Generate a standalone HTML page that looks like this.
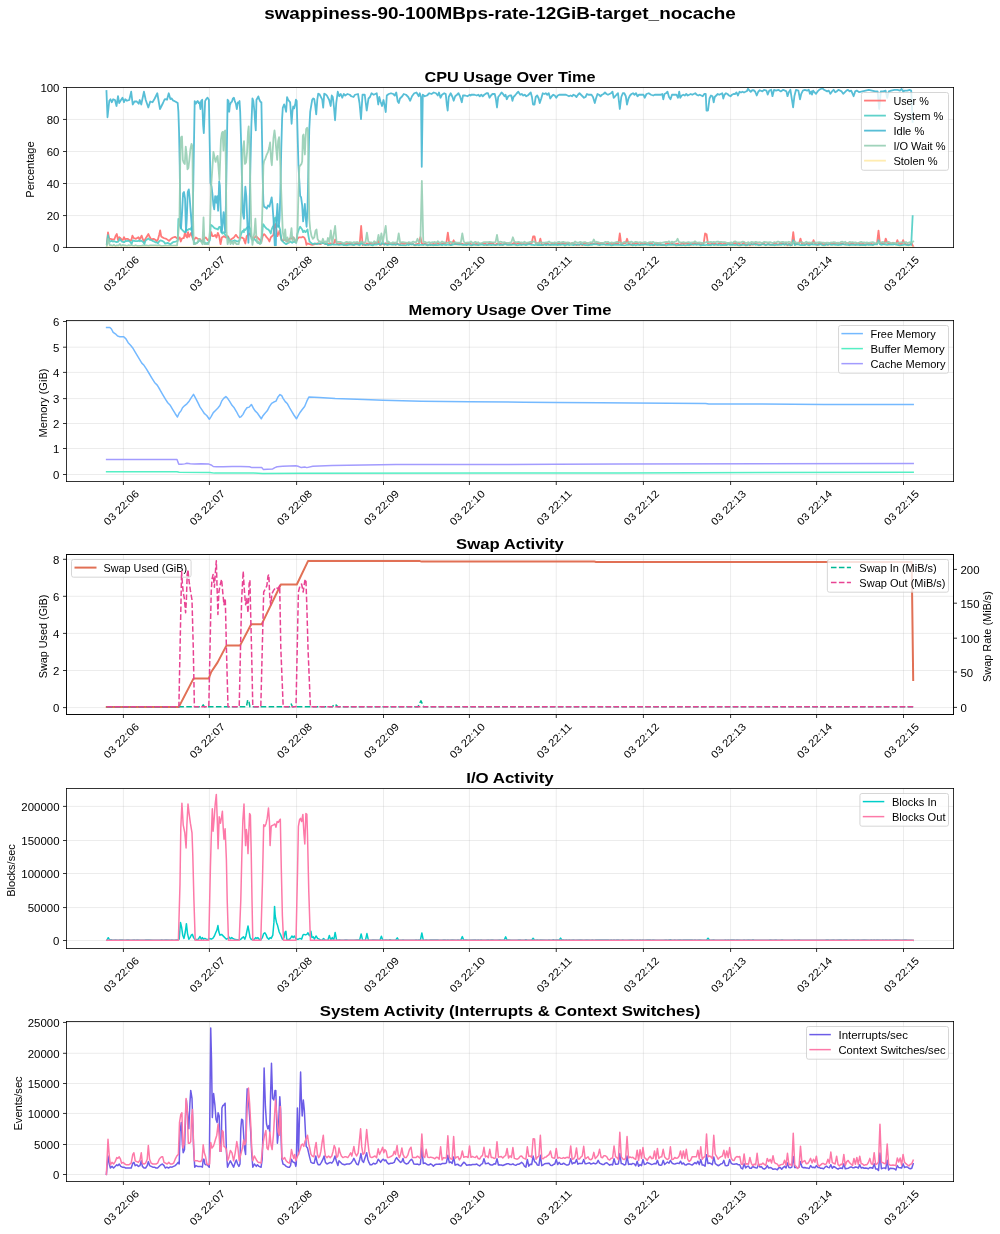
<!DOCTYPE html>
<html><head><meta charset="utf-8"><style>html,body{margin:0;padding:0;background:#fff}svg{display:block;will-change:transform}</style></head><body>
<svg width="1000" height="1234" viewBox="0 0 1000 1234" version="1.1">
  <defs>
  <style type="text/css">*{stroke-linejoin: round; stroke-linecap: butt}</style>
 </defs>
 <g id="figure_1">
  <g id="patch_1">
   <path d="M 0 1234 L 1000 1234 L 1000 0 L 0 0 z
" style="fill: #ffffff"/>
  </g>
  <g id="axes_1">
   <g id="patch_2">
    <path d="M 66.5 247.5 L 953.5 247.5 L 953.5 87.5 L 66.5 87.5 z
" style="fill: #ffffff"/>
   </g>
   <g id="matplotlib.axis_1">
    <g id="xtick_1">
     <g id="line2d_1">
      <path d="M 123.4 247.5 L 123.4 87.5 " clip-path="url(#pa664b8d14c)" style="fill: none; stroke: #b0b0b0; stroke-opacity: 0.3; stroke-width: 0.8; stroke-linecap: square"/>
     </g>
     <g id="line2d_2">
      <defs>
       <path id="m70ed4f7c57" d="M 0 0 L 0 3.5 " style="stroke: #000000; stroke-width: 0.8"/>
      </defs>
      <g>
       <use href="#m70ed4f7c57" x="123.4" y="247.5" style="stroke: #000000; stroke-width: 0.8"/>
      </g>
     </g>
     <g id="text_1">
      <text style="font-size: 10.50px; font-family: 'Liberation Sans'" transform="translate(108.040 291.996) rotate(-45)" textLength="44.72" lengthAdjust="spacingAndGlyphs">03 22:06</text>
     </g>
    </g>
    <g id="xtick_2">
     <g id="line2d_3">
      <path d="M 209.4 247.5 L 209.4 87.5 " clip-path="url(#pa664b8d14c)" style="fill: none; stroke: #b0b0b0; stroke-opacity: 0.3; stroke-width: 0.8; stroke-linecap: square"/>
     </g>
     <g id="line2d_4">
      <g>
       <use href="#m70ed4f7c57" x="209.4" y="247.5" style="stroke: #000000; stroke-width: 0.8"/>
      </g>
     </g>
     <g id="text_2">
      <text style="font-size: 10.50px; font-family: 'Liberation Sans'" transform="translate(194.040 291.996) rotate(-45)" textLength="44.72" lengthAdjust="spacingAndGlyphs">03 22:07</text>
     </g>
    </g>
    <g id="xtick_3">
     <g id="line2d_5">
      <path d="M 296.6 247.5 L 296.6 87.5 " clip-path="url(#pa664b8d14c)" style="fill: none; stroke: #b0b0b0; stroke-opacity: 0.3; stroke-width: 0.8; stroke-linecap: square"/>
     </g>
     <g id="line2d_6">
      <g>
       <use href="#m70ed4f7c57" x="296.6" y="247.5" style="stroke: #000000; stroke-width: 0.8"/>
      </g>
     </g>
     <g id="text_3">
      <text style="font-size: 10.50px; font-family: 'Liberation Sans'" transform="translate(281.240 291.996) rotate(-45)" textLength="44.72" lengthAdjust="spacingAndGlyphs">03 22:08</text>
     </g>
    </g>
    <g id="xtick_4">
     <g id="line2d_7">
      <path d="M 383.5 247.5 L 383.5 87.5 " clip-path="url(#pa664b8d14c)" style="fill: none; stroke: #b0b0b0; stroke-opacity: 0.3; stroke-width: 0.8; stroke-linecap: square"/>
     </g>
     <g id="line2d_8">
      <g>
       <use href="#m70ed4f7c57" x="383.5" y="247.5" style="stroke: #000000; stroke-width: 0.8"/>
      </g>
     </g>
     <g id="text_4">
      <text style="font-size: 10.50px; font-family: 'Liberation Sans'" transform="translate(368.140 291.996) rotate(-45)" textLength="44.72" lengthAdjust="spacingAndGlyphs">03 22:09</text>
     </g>
    </g>
    <g id="xtick_5">
     <g id="line2d_9">
      <path d="M 469.4 247.5 L 469.4 87.5 " clip-path="url(#pa664b8d14c)" style="fill: none; stroke: #b0b0b0; stroke-opacity: 0.3; stroke-width: 0.8; stroke-linecap: square"/>
     </g>
     <g id="line2d_10">
      <g>
       <use href="#m70ed4f7c57" x="469.4" y="247.5" style="stroke: #000000; stroke-width: 0.8"/>
      </g>
     </g>
     <g id="text_5">
      <text style="font-size: 10.50px; font-family: 'Liberation Sans'" transform="translate(454.040 291.996) rotate(-45)" textLength="44.72" lengthAdjust="spacingAndGlyphs">03 22:10</text>
     </g>
    </g>
    <g id="xtick_6">
     <g id="line2d_11">
      <path d="M 556.25 247.5 L 556.25 87.5 " clip-path="url(#pa664b8d14c)" style="fill: none; stroke: #b0b0b0; stroke-opacity: 0.3; stroke-width: 0.8; stroke-linecap: square"/>
     </g>
     <g id="line2d_12">
      <g>
       <use href="#m70ed4f7c57" x="556.25" y="247.5" style="stroke: #000000; stroke-width: 0.8"/>
      </g>
     </g>
     <g id="text_6">
      <text style="font-size: 10.50px; font-family: 'Liberation Sans'" transform="translate(540.890 291.996) rotate(-45)" textLength="44.72" lengthAdjust="spacingAndGlyphs">03 22:11</text>
     </g>
    </g>
    <g id="xtick_7">
     <g id="line2d_13">
      <path d="M 643.4 247.5 L 643.4 87.5 " clip-path="url(#pa664b8d14c)" style="fill: none; stroke: #b0b0b0; stroke-opacity: 0.3; stroke-width: 0.8; stroke-linecap: square"/>
     </g>
     <g id="line2d_14">
      <g>
       <use href="#m70ed4f7c57" x="643.4" y="247.5" style="stroke: #000000; stroke-width: 0.8"/>
      </g>
     </g>
     <g id="text_7">
      <text style="font-size: 10.50px; font-family: 'Liberation Sans'" transform="translate(628.040 291.996) rotate(-45)" textLength="44.72" lengthAdjust="spacingAndGlyphs">03 22:12</text>
     </g>
    </g>
    <g id="xtick_8">
     <g id="line2d_15">
      <path d="M 730.6 247.5 L 730.6 87.5 " clip-path="url(#pa664b8d14c)" style="fill: none; stroke: #b0b0b0; stroke-opacity: 0.3; stroke-width: 0.8; stroke-linecap: square"/>
     </g>
     <g id="line2d_16">
      <g>
       <use href="#m70ed4f7c57" x="730.6" y="247.5" style="stroke: #000000; stroke-width: 0.8"/>
      </g>
     </g>
     <g id="text_8">
      <text style="font-size: 10.50px; font-family: 'Liberation Sans'" transform="translate(715.240 291.996) rotate(-45)" textLength="44.72" lengthAdjust="spacingAndGlyphs">03 22:13</text>
     </g>
    </g>
    <g id="xtick_9">
     <g id="line2d_17">
      <path d="M 816.6 247.5 L 816.6 87.5 " clip-path="url(#pa664b8d14c)" style="fill: none; stroke: #b0b0b0; stroke-opacity: 0.3; stroke-width: 0.8; stroke-linecap: square"/>
     </g>
     <g id="line2d_18">
      <g>
       <use href="#m70ed4f7c57" x="816.6" y="247.5" style="stroke: #000000; stroke-width: 0.8"/>
      </g>
     </g>
     <g id="text_9">
      <text style="font-size: 10.50px; font-family: 'Liberation Sans'" transform="translate(801.240 291.996) rotate(-45)" textLength="44.72" lengthAdjust="spacingAndGlyphs">03 22:14</text>
     </g>
    </g>
    <g id="xtick_10">
     <g id="line2d_19">
      <path d="M 903.5 247.5 L 903.5 87.5 " clip-path="url(#pa664b8d14c)" style="fill: none; stroke: #b0b0b0; stroke-opacity: 0.3; stroke-width: 0.8; stroke-linecap: square"/>
     </g>
     <g id="line2d_20">
      <g>
       <use href="#m70ed4f7c57" x="903.5" y="247.5" style="stroke: #000000; stroke-width: 0.8"/>
      </g>
     </g>
     <g id="text_10">
      <text style="font-size: 10.50px; font-family: 'Liberation Sans'" transform="translate(888.140 291.996) rotate(-45)" textLength="44.72" lengthAdjust="spacingAndGlyphs">03 22:15</text>
     </g>
    </g>
   </g>
   <g id="matplotlib.axis_2">
    <g id="ytick_1">
     <g id="line2d_21">
      <path d="M 66.5 247.45 L 953.5 247.45 " clip-path="url(#pa664b8d14c)" style="fill: none; stroke: #b0b0b0; stroke-opacity: 0.3; stroke-width: 0.8; stroke-linecap: square"/>
     </g>
     <g id="line2d_22">
      <defs>
       <path id="m8c60a345ed" d="M 0 0 L -3.5 0 " style="stroke: #000000; stroke-width: 0.8"/>
      </defs>
      <g>
       <use href="#m8c60a345ed" x="66.5" y="247.45" style="stroke: #000000; stroke-width: 0.8"/>
      </g>
     </g>
     <g id="text_11">
      <text style="font-size: 10.50px; font-family: 'Liberation Sans'; text-anchor: end" x="59.500" y="252.149" transform="rotate(-0 59.500 252.149)" textLength="6.36" lengthAdjust="spacingAndGlyphs">0</text>
     </g>
    </g>
    <g id="ytick_2">
     <g id="line2d_23">
      <path d="M 66.5 215.55 L 953.5 215.55 " clip-path="url(#pa664b8d14c)" style="fill: none; stroke: #b0b0b0; stroke-opacity: 0.3; stroke-width: 0.8; stroke-linecap: square"/>
     </g>
     <g id="line2d_24">
      <g>
       <use href="#m8c60a345ed" x="66.5" y="215.55" style="stroke: #000000; stroke-width: 0.8"/>
      </g>
     </g>
     <g id="text_12">
      <text style="font-size: 10.50px; font-family: 'Liberation Sans'; text-anchor: end" x="59.500" y="220.249" transform="rotate(-0 59.500 220.249)" textLength="12.72" lengthAdjust="spacingAndGlyphs">20</text>
     </g>
    </g>
    <g id="ytick_3">
     <g id="line2d_25">
      <path d="M 66.5 183.5 L 953.5 183.5 " clip-path="url(#pa664b8d14c)" style="fill: none; stroke: #b0b0b0; stroke-opacity: 0.3; stroke-width: 0.8; stroke-linecap: square"/>
     </g>
     <g id="line2d_26">
      <g>
       <use href="#m8c60a345ed" x="66.5" y="183.5" style="stroke: #000000; stroke-width: 0.8"/>
      </g>
     </g>
     <g id="text_13">
      <text style="font-size: 10.50px; font-family: 'Liberation Sans'; text-anchor: end" x="59.500" y="188.199" transform="rotate(-0 59.500 188.199)" textLength="12.72" lengthAdjust="spacingAndGlyphs">40</text>
     </g>
    </g>
    <g id="ytick_4">
     <g id="line2d_27">
      <path d="M 66.5 151.5 L 953.5 151.5 " clip-path="url(#pa664b8d14c)" style="fill: none; stroke: #b0b0b0; stroke-opacity: 0.3; stroke-width: 0.8; stroke-linecap: square"/>
     </g>
     <g id="line2d_28">
      <g>
       <use href="#m8c60a345ed" x="66.5" y="151.5" style="stroke: #000000; stroke-width: 0.8"/>
      </g>
     </g>
     <g id="text_14">
      <text style="font-size: 10.50px; font-family: 'Liberation Sans'; text-anchor: end" x="59.500" y="156.199" transform="rotate(-0 59.500 156.199)" textLength="12.72" lengthAdjust="spacingAndGlyphs">60</text>
     </g>
    </g>
    <g id="ytick_5">
     <g id="line2d_29">
      <path d="M 66.5 119.45 L 953.5 119.45 " clip-path="url(#pa664b8d14c)" style="fill: none; stroke: #b0b0b0; stroke-opacity: 0.3; stroke-width: 0.8; stroke-linecap: square"/>
     </g>
     <g id="line2d_30">
      <g>
       <use href="#m8c60a345ed" x="66.5" y="119.45" style="stroke: #000000; stroke-width: 0.8"/>
      </g>
     </g>
     <g id="text_15">
      <text style="font-size: 10.50px; font-family: 'Liberation Sans'; text-anchor: end" x="59.500" y="124.149" transform="rotate(-0 59.500 124.149)" textLength="12.72" lengthAdjust="spacingAndGlyphs">80</text>
     </g>
    </g>
    <g id="ytick_6">
     <g id="line2d_31">
      <path d="M 66.5 87.5 L 953.5 87.5 " clip-path="url(#pa664b8d14c)" style="fill: none; stroke: #b0b0b0; stroke-opacity: 0.3; stroke-width: 0.8; stroke-linecap: square"/>
     </g>
     <g id="line2d_32">
      <g>
       <use href="#m8c60a345ed" x="66.5" y="87.5" style="stroke: #000000; stroke-width: 0.8"/>
      </g>
     </g>
     <g id="text_16">
      <text style="font-size: 10.50px; font-family: 'Liberation Sans'; text-anchor: end" x="59.500" y="92.199" transform="rotate(-0 59.500 92.199)" textLength="19.09" lengthAdjust="spacingAndGlyphs">100</text>
     </g>
    </g>
    <g id="text_17">
     <text style="font-size: 10.50px; font-family: 'Liberation Sans'; text-anchor: middle" x="34.333" y="169.500" transform="rotate(-90 34.333 169.500)" textLength="56.26" lengthAdjust="spacingAndGlyphs">Percentage</text>
    </g>
   </g>
   <g id="line2d_33">
    <path d="M 106.8 244 L 108 232.4 L 109.2 238.8 L 110.4 238.8 L 113.2 239.6 L 114.4 239.2 L 115.6 236 L 116.8 234 L 118 240 L 119.2 237.2 L 120.4 238 L 121.6 239.6 L 122.8 240 L 124 237.2 L 125.2 239.6 L 126.4 238.8 L 127.6 238.8 L 130 240.4 L 131.2 240.4 L 132.4 235.6 L 133.6 238 L 136 238.8 L 138.4 237.2 L 139.6 239.2 L 140.8 237.2 L 141.6 235.6 L 142.8 239.2 L 144 241.6 L 145.2 239.2 L 148.4 234 L 149.6 236.8 L 150.8 238.8 L 152 239.6 L 153.2 238.8 L 154.4 239.2 L 155.6 240 L 156.8 241.2 L 158 239.2 L 159.2 234.8 L 160.16 230.4 L 161.2 236.4 L 163.6 238 L 166.34 238.85 L 169.01 240.85 L 171.02 238.85 L 173.03 237.51 L 175.03 236.84 L 177.04 238.18 L 178.38 238.85 L 179.72 237.51 L 180.79 241.52 L 181.72 238.85 L 182.79 238.18 L 183.73 238.18 L 185.07 232.16 L 186 236.17 L 187.07 237.51 L 188.01 232.16 L 189.08 236.84 L 191.09 232.83 L 192.42 237.51 L 193.76 240.18 L 195.77 237.51 L 197.78 238.85 L 199.78 238.85 L 201.79 241.52 L 203.8 238.85 L 205.8 237.51 L 207.81 240.18 L 209.82 238.85 L 211.15 232.16 L 212.49 236.17 L 213.83 236.17 L 215.17 234.83 L 216.51 237.51 L 217.84 232.83 L 219.18 236.17 L 220.52 244.2 L 221.86 237.51 L 223.86 236.17 L 225.87 237.51 L 227.88 236.17 L 229.88 240.18 L 233.9 237.51 L 235.9 234.83 L 237.91 237.51 L 239.92 238.18 L 241.92 237.51 L 243.93 238.85 L 244.01 240.12 L 245.35 243.46 L 246.69 236.11 L 249.36 233.44 L 250.7 236.11 L 253.37 238.78 L 256.05 236.11 L 261.4 241.46 L 262.73 236.11 L 264.07 234.1 L 265.41 235.44 L 266.75 237.45 L 268.08 238.78 L 269.42 241.46 L 270.76 237.45 L 273.43 234.77 L 274.5 225.41 L 275.44 224.07 L 277.44 236.11 L 278.51 233.44 L 279.45 230.76 L 280.52 236.11 L 281.72 240.12 L 282.79 240.79 L 285.47 239.45 L 286.8 241.46 L 289.48 238.78 L 290.82 238.12 L 292.15 238.78 L 293.49 237.45 L 294.83 240.12 L 296.16 241.46 L 297.5 238.78 L 298.84 237.45 L 301.51 237.45 L 302.85 236.78 L 304.19 237.45 L 305.53 240.12 L 306.46 244.8 L 307.53 243.46 L 309.54 244.13 L 312.21 244.8 L 317.56 243.46 L 320.24 244.13 L 322.91 242.8 L 325.58 244.13 L 326.92 244.13 L 327.91 243.93 L 329.35 244.17 L 330.8 243.35 L 332.25 244.28 L 333.69 243.67 L 335.14 239.49 L 336.58 243.54 L 338.03 244.23 L 339.47 244.08 L 340.92 243.27 L 342.36 244.24 L 343.81 243.85 L 345.25 244.13 L 346.7 244.08 L 348.14 243.26 L 349.59 244.09 L 351.03 243.57 L 352.48 244.75 L 356.81 243.36 L 358.26 243.93 L 359.7 243.99 L 361.15 225.99 L 362.59 245.12 L 364.04 244.12 L 365.48 244.83 L 366.93 243.29 L 368.37 244.8 L 369.82 243.15 L 371.26 243.54 L 372.71 244.2 L 374.15 243.93 L 375.6 242.6 L 377.05 243.29 L 378.49 240.99 L 379.94 245.05 L 382.83 243.75 L 384.27 244.34 L 385.72 243.27 L 387.16 244.18 L 388.61 243.16 L 390.05 243.89 L 391.5 243.83 L 392.94 244.34 L 394.39 243.73 L 395.83 244.56 L 397.28 243.79 L 398.72 244.36 L 400.17 244.33 L 401.61 242.89 L 403.06 243.92 L 404.5 243.92 L 405.95 243.47 L 407.39 244 L 408.84 243.1 L 410.28 244.21 L 413.17 244.07 L 414.62 245.26 L 416.06 244.09 L 417.51 243.94 L 418.95 243.5 L 420.4 237.24 L 421.85 243.37 L 423.29 244.6 L 424.74 243.54 L 426.18 243.99 L 427.63 244.99 L 430.52 244.03 L 431.96 244.66 L 433.41 243.87 L 434.85 244.34 L 437.74 243.4 L 439.19 244.14 L 440.63 244.41 L 442.08 243.71 L 443.52 243.3 L 444.97 243.61 L 446.41 242.59 L 447.86 232.74 L 449.3 243.31 L 450.75 245.01 L 452.19 243.59 L 453.64 240.24 L 455.08 244.38 L 456.53 243.8 L 459.42 244 L 460.86 244.02 L 462.31 243.69 L 463.75 244.43 L 465.2 244.19 L 466.65 243.63 L 468.09 243.81 L 469.54 243.38 L 470.98 244.05 L 472.43 244.31 L 475.32 244.24 L 476.76 243.83 L 478.21 244.77 L 479.65 243.79 L 481.1 243.92 L 482.54 243.72 L 483.99 243.94 L 485.43 243.77 L 486.88 245.02 L 488.32 244.13 L 489.77 242.97 L 491.21 243.66 L 492.66 243.12 L 494.1 244.38 L 495.55 244.66 L 496.99 243.65 L 498.44 244.24 L 499.88 243.78 L 501.33 244.12 L 502.77 244.85 L 504.22 243.71 L 505.66 243.22 L 507.11 244.3 L 508.55 244.18 L 511.45 244.46 L 512.89 243.53 L 514.34 242.82 L 515.78 244.47 L 517.23 243.68 L 518.67 243.24 L 520.12 243.26 L 521.56 244.52 L 523.01 244 L 524.45 244.07 L 525.9 244.37 L 527.34 243.53 L 528.79 243.28 L 530.23 243.43 L 531.68 243.29 L 533.12 236.49 L 534.57 236.49 L 536.01 243.92 L 537.46 243.64 L 538.9 243.86 L 540.35 238.74 L 541.79 244.67 L 543.24 244.76 L 544.68 243.96 L 546.13 244.02 L 547.57 243.62 L 549.02 244.45 L 550.46 244.74 L 551.91 243.57 L 553.35 244.32 L 554.8 243.72 L 557.69 244 L 559.14 243.68 L 560.58 244.39 L 562.03 243.08 L 563.47 243.52 L 564.92 243.83 L 566.36 243.33 L 567.81 244.1 L 569.25 243.07 L 570.7 243.93 L 572.14 243.11 L 573.59 243.82 L 575.03 244.18 L 576.48 245.11 L 577.92 244.49 L 579.37 244.79 L 580.81 243.94 L 582.26 245.06 L 583.7 243.77 L 585.15 243.76 L 586.59 243.19 L 588.04 244.02 L 589.48 244.48 L 590.93 243.55 L 592.37 243.7 L 593.82 243.65 L 595.26 243.72 L 596.71 243.58 L 598.15 243.16 L 599.6 244.66 L 601.05 242.82 L 602.49 243.39 L 603.94 244.09 L 605.38 244.46 L 606.83 243.79 L 608.27 243.74 L 609.72 243.93 L 611.16 243.76 L 612.61 244.38 L 614.05 243.63 L 615.5 243.36 L 618.39 243.95 L 619.83 233.49 L 621.28 244.78 L 622.72 243.68 L 624.17 243.09 L 625.61 243.14 L 627.06 238.74 L 628.5 243.68 L 629.95 244.15 L 631.39 244.95 L 632.84 243.53 L 634.28 243.79 L 637.17 243.3 L 638.62 244.34 L 640.06 244.49 L 641.51 242.87 L 642.95 244.44 L 644.4 243.77 L 645.85 244 L 647.29 244.01 L 648.74 243.18 L 650.18 243.73 L 651.63 243.35 L 653.07 244.95 L 654.52 245.1 L 655.96 243.95 L 657.41 243.25 L 658.85 244.54 L 660.3 243.8 L 661.74 244.86 L 663.19 244.98 L 664.63 244.82 L 666.08 243.68 L 667.52 243.35 L 668.97 243.54 L 670.41 243.85 L 671.86 243.39 L 673.3 244.56 L 677.64 243.68 L 679.08 244.26 L 680.53 244.66 L 681.97 242.84 L 683.42 244.03 L 686.31 243.49 L 689.2 243.97 L 690.65 244.93 L 692.09 243.93 L 693.54 243.66 L 694.98 243.23 L 696.43 244.33 L 697.87 243.49 L 700.76 244.29 L 702.21 243.93 L 703.65 243.69 L 705.1 233.49 L 706.54 234.24 L 707.99 243.89 L 710.88 244.13 L 712.32 243.72 L 713.77 244.08 L 715.21 243.75 L 716.66 244.52 L 718.1 244.18 L 719.55 242.95 L 722.44 244.51 L 723.88 243.78 L 725.33 243.67 L 726.77 244.45 L 728.22 243.3 L 729.66 243.94 L 731.11 244.22 L 732.55 244.37 L 734 243.33 L 735.45 243.21 L 736.89 244.72 L 738.34 243.47 L 739.78 243.85 L 741.23 245.24 L 742.67 243.64 L 744.12 242.69 L 745.56 245.43 L 747.01 244.46 L 748.45 244.1 L 749.9 245.43 L 751.34 243.86 L 752.79 244.7 L 754.23 243.91 L 755.68 243.75 L 757.12 244.25 L 761.46 244.56 L 762.9 243.63 L 764.35 243.86 L 765.79 244.97 L 767.24 244.23 L 768.68 243.95 L 770.13 244.64 L 773.02 244.61 L 774.46 243.6 L 775.91 243.69 L 777.35 244.31 L 778.8 244.56 L 780.25 243.24 L 781.69 243.65 L 783.14 243.77 L 784.58 244.45 L 786.03 243.3 L 787.47 245.39 L 788.92 243.95 L 790.36 244.24 L 791.81 245.13 L 793.25 232.2 L 794.7 244.32 L 796.14 243.81 L 797.59 244.16 L 799.03 243.32 L 800.48 238.6 L 801.92 243.92 L 803.37 243.36 L 804.81 244.46 L 806.26 244.15 L 807.7 242.88 L 809.15 244.34 L 810.59 243.4 L 812.04 244.22 L 813.48 240.2 L 814.93 243.71 L 816.37 244.14 L 817.82 244.97 L 819.26 243.07 L 820.71 243.71 L 822.15 243.72 L 823.6 244.51 L 825.05 243.77 L 826.49 244.13 L 827.94 244.64 L 829.38 244.33 L 830.83 243.68 L 833.72 243.76 L 835.16 243.99 L 836.61 243.43 L 839.5 244.22 L 840.94 243.65 L 842.39 243.64 L 843.83 244.06 L 845.28 244.35 L 846.72 243.17 L 848.17 243.36 L 849.61 244.61 L 851.06 243.89 L 852.5 243.3 L 853.95 243.97 L 855.39 244.77 L 856.84 243.56 L 858.28 243.38 L 859.73 243.77 L 861.17 244.78 L 862.62 243.54 L 864.06 244.19 L 865.51 244.45 L 866.95 244.24 L 868.4 243.71 L 869.85 244.26 L 871.29 243.99 L 872.74 244.35 L 875.63 243.98 L 877.07 242.95 L 878.52 230.6 L 879.96 243.84 L 881.41 242.76 L 882.85 243.88 L 884.3 244.06 L 885.74 238.6 L 887.19 242.56 L 888.63 243.5 L 890.08 243.37 L 891.52 243.73 L 892.97 242.64 L 894.41 244.06 L 895.86 244.19 L 897.3 240.2 L 898.75 243.87 L 900.19 243.85 L 901.64 244.45 L 903.08 240.2 L 904.53 243.67 L 905.97 244.07 L 908.86 244.56 L 910.31 244.16 L 911.75 243.47 L 913.2 246.5 L 913.2 246.5 " clip-path="url(#pa664b8d14c)" style="fill: none; stroke: #ff6b6b; stroke-opacity: 0.9; stroke-width: 1.8; stroke-linecap: square"/>
   </g>
   <g id="line2d_34">
    <path d="M 106.8 244 L 108 235.2 L 109.2 240.8 L 110.4 241.6 L 111.6 240.8 L 112.8 241.6 L 114.4 241.2 L 116 242 L 117.2 242 L 118.4 241.6 L 119.6 238.8 L 120.8 240.4 L 122 241.6 L 123.2 242 L 124.4 242 L 125.6 240.8 L 126.8 241.2 L 128 240.4 L 130.4 242 L 131.6 244 L 132.8 240.4 L 135.2 241.2 L 137.6 241.2 L 138.8 240.4 L 140 241.2 L 140.8 240.4 L 143.2 242 L 144.4 244 L 145.6 240.4 L 148.4 238.4 L 149.6 239.6 L 152 240.4 L 153.2 241.2 L 154.4 241.6 L 155.6 242.4 L 156.8 242.4 L 158 243.2 L 159.2 241.2 L 160.4 240.4 L 162.8 241.2 L 164 242 L 165 243.53 L 167.68 242.86 L 170.35 244.2 L 173.03 242.19 L 175.7 241.52 L 177.71 240.85 L 178.38 218.78 L 180.79 228.14 L 181.72 229.48 L 184.4 232.16 L 185.33 231.49 L 186.4 229.48 L 187.74 230.15 L 189.08 228.81 L 190.42 229.48 L 191.76 226.81 L 193.09 238.85 L 194.43 243.53 L 197.11 242.86 L 199.78 240.18 L 205.13 242.86 L 207.81 243.53 L 209.82 240.18 L 210.75 224.8 L 211.82 225.47 L 214.5 228.14 L 216.51 228.81 L 217.84 229.48 L 219.18 226.81 L 220.25 226.81 L 221.19 232.16 L 222.53 233.49 L 223.86 232.16 L 225.2 234.83 L 227.88 237.51 L 229.21 240.18 L 231.89 241.52 L 234.57 240.18 L 237.24 241.52 L 239.25 240.85 L 241.25 233.49 L 242.59 230.82 L 243.93 232.16 L 244.01 229.42 L 245.35 230.09 L 246.69 228.09 L 248.02 226.75 L 249.36 226.75 L 250.43 229.42 L 251.37 238.78 L 252.7 240.12 L 254.04 238.78 L 258.05 242.8 L 259.39 243.46 L 260.73 242.8 L 262.06 234.77 L 263 224.07 L 264.07 225.41 L 265.41 227.42 L 266.75 228.76 L 268.08 229.42 L 269.42 230.76 L 270.76 233.44 L 271.69 229.42 L 272.76 226.75 L 273.7 225.41 L 274.5 218.73 L 275.44 217.39 L 276.37 222.74 L 277.44 226.75 L 278.78 225.41 L 280.12 229.42 L 281.45 240.12 L 284.13 242.8 L 286.14 244.13 L 290.15 241.46 L 292.15 242.8 L 294.16 241.46 L 296.16 242.8 L 297.5 233.44 L 298.84 229.42 L 300.18 226.75 L 302.18 229.42 L 303.12 232.1 L 304.19 230.76 L 305.53 232.1 L 307.53 229.42 L 308.47 236.11 L 309.54 241.46 L 310.87 242.8 L 312.88 244.13 L 314.89 243.46 L 316.89 244.13 L 318.9 243.46 L 320.9 243.46 L 322.91 242.8 L 325.58 244.13 L 326.92 243.46 L 327.91 245.43 L 329.35 244.95 L 330.8 244.83 L 332.25 244.15 L 333.69 244.7 L 338.03 244.58 L 339.47 244.78 L 340.92 244.63 L 342.36 244.34 L 343.81 245.11 L 345.25 245.11 L 346.7 245.4 L 348.14 244.82 L 352.48 244.26 L 353.92 245.14 L 355.37 244.41 L 356.81 244.39 L 358.26 244.73 L 359.7 245.32 L 361.15 242.49 L 362.59 244.44 L 364.04 244.55 L 365.48 245.02 L 368.37 244.53 L 369.82 244.72 L 372.71 245.49 L 374.15 244.36 L 375.6 244.58 L 377.05 244.52 L 378.49 243.95 L 379.94 244.48 L 381.38 244.44 L 382.83 240.99 L 384.27 244.75 L 385.72 244.23 L 387.16 245.03 L 388.61 244.68 L 390.05 244.19 L 391.5 244.59 L 394.39 244.49 L 395.83 244.81 L 397.28 244.01 L 398.72 244.71 L 400.17 245.15 L 401.61 245.1 L 405.95 245.32 L 407.39 244.41 L 408.84 245.1 L 410.28 244.15 L 411.73 244.59 L 413.17 244.13 L 414.62 245.17 L 416.06 245.27 L 417.51 244.73 L 418.95 245.42 L 420.4 244.56 L 421.85 244.85 L 423.29 244.85 L 424.74 244.43 L 427.63 245.48 L 429.07 244.44 L 430.52 245.11 L 431.96 244.75 L 433.41 245.42 L 434.85 244.97 L 437.74 245.03 L 439.19 244.89 L 440.63 244.31 L 442.08 245.29 L 443.52 244.32 L 444.97 244.88 L 446.41 245.01 L 447.86 244.51 L 450.75 245.21 L 452.19 244.79 L 453.64 244.49 L 455.08 243.78 L 456.53 244.46 L 459.42 244.62 L 460.86 244.46 L 462.31 244.93 L 463.75 244.6 L 465.2 244.76 L 466.65 245.04 L 468.09 244.5 L 469.54 244.69 L 470.98 245.56 L 472.43 245.11 L 473.87 244.35 L 475.32 244.77 L 478.21 245.23 L 479.65 244.85 L 481.1 244.61 L 482.54 244.54 L 483.99 245.03 L 485.43 244.91 L 486.88 244.62 L 488.32 244.73 L 489.77 244.65 L 491.21 245.05 L 492.66 244.56 L 494.1 244.97 L 495.55 245.1 L 496.99 244.97 L 498.44 244.51 L 499.88 245.27 L 501.33 244.56 L 502.77 244.95 L 505.66 244.19 L 507.11 244.88 L 508.55 244.9 L 510 244.77 L 511.45 244.9 L 512.89 244.57 L 514.34 244.54 L 515.78 244.74 L 517.23 245.47 L 520.12 244.62 L 521.56 245 L 523.01 244.63 L 524.45 244.64 L 525.9 245.1 L 528.79 244.21 L 531.68 244.83 L 533.12 244.84 L 534.57 245.23 L 536.01 244.55 L 537.46 245.06 L 540.35 244.75 L 541.79 245.09 L 543.24 244.97 L 544.68 244.5 L 546.13 245.18 L 547.57 244.37 L 549.02 244.82 L 550.46 244.8 L 551.91 244.95 L 553.35 244.55 L 554.8 244.79 L 556.25 244.75 L 557.69 245.15 L 559.14 244.52 L 560.58 244.83 L 562.03 244.71 L 563.47 244.35 L 564.92 245.74 L 566.36 244.78 L 567.81 244.28 L 569.25 245.29 L 570.7 244.43 L 572.14 244.93 L 573.59 245.1 L 575.03 244.57 L 576.48 244.65 L 577.92 244.61 L 579.37 244.75 L 580.81 244.23 L 582.26 244.37 L 585.15 245.16 L 586.59 245.02 L 588.04 245.41 L 590.93 244.62 L 592.37 244.76 L 593.82 244.09 L 595.26 244.46 L 596.71 244.44 L 598.15 244.89 L 599.6 245.03 L 601.05 244.6 L 602.49 244.59 L 603.94 244.26 L 605.38 244.76 L 608.27 244.96 L 609.72 244.53 L 611.16 245.5 L 612.61 245.22 L 614.05 244.77 L 615.5 244.62 L 622.72 245.07 L 624.17 245.28 L 625.61 245.2 L 627.06 244.76 L 628.5 244.94 L 629.95 244.66 L 631.39 244.59 L 632.84 245.47 L 634.28 244.64 L 635.73 245.5 L 637.17 244.68 L 640.06 245.18 L 641.51 244.81 L 642.95 244.94 L 644.4 244.72 L 645.85 244.63 L 647.29 244.74 L 648.74 244.57 L 650.18 245.37 L 651.63 244.74 L 653.07 245.4 L 654.52 243.86 L 655.96 244.81 L 657.41 245 L 658.85 244.7 L 660.3 245.18 L 661.74 245.02 L 663.19 244.7 L 664.63 244.95 L 666.08 245.78 L 667.52 244.89 L 668.97 244.9 L 670.41 244.65 L 671.86 244.85 L 673.3 244.35 L 674.75 244.73 L 676.19 245.66 L 677.64 245.17 L 679.08 245.02 L 681.97 245.46 L 683.42 245.01 L 684.86 245.52 L 687.75 244.86 L 689.2 245.4 L 690.65 243.97 L 692.09 244.6 L 693.54 244.89 L 694.98 244.48 L 696.43 244.75 L 697.87 244.58 L 699.32 244.57 L 700.76 245.75 L 702.21 245.02 L 703.65 244.78 L 705.1 245.26 L 706.54 244.72 L 707.99 245.11 L 709.43 244.92 L 710.88 245.37 L 712.32 244.3 L 713.77 245.07 L 715.21 244.84 L 716.66 244.39 L 718.1 245.17 L 719.55 244.49 L 720.99 245.37 L 722.44 244.98 L 723.88 245.04 L 725.33 244.83 L 726.77 245.12 L 728.22 244.15 L 729.66 244.83 L 731.11 244.58 L 732.55 244.9 L 734 244.78 L 735.45 245.02 L 736.89 244.51 L 738.34 245.44 L 739.78 245.61 L 741.23 244.73 L 744.12 244.9 L 745.56 245.24 L 747.01 245.46 L 748.45 244.38 L 749.9 244.58 L 751.34 244.43 L 752.79 244.41 L 754.23 244.23 L 755.68 244.93 L 757.12 244.39 L 758.57 245.33 L 760.01 245.12 L 761.46 244.44 L 762.9 244.44 L 764.35 244.59 L 765.79 245.29 L 767.24 244.5 L 768.68 244.28 L 770.13 244.78 L 771.57 244.93 L 773.02 244.57 L 774.46 245.37 L 775.91 244.88 L 777.35 244.96 L 778.8 244.5 L 780.25 244.79 L 781.69 244.75 L 783.14 244 L 784.58 244.9 L 786.03 244.17 L 787.47 244.79 L 788.92 244.28 L 790.36 245.51 L 791.81 244.91 L 793.25 240.2 L 794.7 245.12 L 796.14 244.34 L 797.59 244 L 799.03 244.68 L 800.48 245.11 L 801.92 244.83 L 803.37 245.07 L 804.81 245.13 L 806.26 244.28 L 809.15 245.49 L 810.59 244.6 L 812.04 244.09 L 813.48 244.72 L 814.93 244.64 L 816.37 244.95 L 817.82 244.49 L 819.26 244.83 L 820.71 244.02 L 822.15 245.1 L 823.6 245.36 L 825.05 245.25 L 826.49 244.27 L 827.94 244.91 L 829.38 243.76 L 830.83 244.9 L 832.27 244.78 L 833.72 244.45 L 835.16 244.92 L 836.61 244.85 L 838.05 245.13 L 839.5 244.84 L 840.94 244.88 L 842.39 244.12 L 846.72 244.9 L 848.17 244.8 L 849.61 245.33 L 851.06 244.5 L 853.95 244.89 L 855.39 244.72 L 856.84 244.97 L 858.28 244.6 L 859.73 245.3 L 861.17 244.69 L 862.62 245.19 L 864.06 244.79 L 865.51 245.32 L 866.95 244.31 L 868.4 244.98 L 869.85 244.65 L 872.74 245.22 L 874.18 244.4 L 875.63 244.34 L 877.07 244.45 L 878.52 240.2 L 879.96 244.14 L 881.41 244.83 L 882.85 244.35 L 884.3 244.4 L 887.19 244.93 L 888.63 244.58 L 892.97 244.7 L 894.41 243.86 L 895.86 244.65 L 897.3 244.83 L 900.19 245.52 L 901.64 245.03 L 903.08 244.83 L 904.53 244.46 L 905.97 244.83 L 908.86 245.24 L 910.31 244.49 L 911.2 245 L 912.64 216.2 L 912.64 216.2 " clip-path="url(#pa664b8d14c)" style="fill: none; stroke: #4ecdc4; stroke-opacity: 0.9; stroke-width: 1.8; stroke-linecap: square"/>
   </g>
   <g id="line2d_35">
    <path d="M 106.45 91 L 107.5 117.25 L 109.3 100.75 L 110.5 99.25 L 111.7 102.25 L 113.2 99.25 L 115 100 L 116.5 106 L 118 96.25 L 119.2 103 L 121 100 L 122.5 97.75 L 124 102.25 L 125.2 99.25 L 127 100.75 L 129.25 100 L 131.2 91.75 L 132.7 104.5 L 134.5 101.5 L 136.75 101.5 L 138.7 103.75 L 139.75 100 L 141.25 104.5 L 143.95 91.75 L 145.75 100 L 148.3 107.5 L 150.25 101.5 L 152.5 102.25 L 154.75 98.5 L 157.3 93.25 L 160 109 L 163 103 L 164.5 99.7 L 165 99.05 L 167.01 99.72 L 168.75 93.29 L 170.35 99.05 L 171.69 98.38 L 173.03 100.38 L 175.7 101.72 L 177.71 103.06 L 178.38 111.76 L 179.05 131.82 L 179.72 165.27 L 180.38 225.47 L 181.05 228.14 L 182.12 212.09 L 183.06 193.36 L 184 192.02 L 185.07 198.71 L 186 232.16 L 186.81 218.78 L 187.74 192.02 L 188.81 189.35 L 189.75 198.71 L 190.69 212.09 L 192.42 234.83 L 194.7 101.05 L 195.77 103.73 L 196.84 101.72 L 197.78 101.05 L 198.71 103.06 L 199.52 102.39 L 200.45 109.08 L 201.12 101.05 L 202.19 99.72 L 203.13 125.13 L 203.8 133.16 L 205.13 101.05 L 206.2 99.05 L 207.54 97.71 L 208.88 99.72 L 210.48 182.66 L 211.56 186.67 L 212.49 194.7 L 213.43 205.4 L 214.23 209.41 L 215.17 196.04 L 216.24 202.73 L 217.17 196.04 L 218.11 210.75 L 219.18 181.32 L 219.85 185.33 L 220.52 205.4 L 221.19 221.45 L 221.86 232.16 L 223.6 212.09 L 225.2 232.16 L 225.87 205.4 L 226.81 151.89 L 227.61 99.72 L 228.55 101.05 L 229.21 111.76 L 229.88 105.07 L 230.95 102.39 L 231.89 101.72 L 232.96 98.38 L 233.9 97.71 L 234.83 101.05 L 235.9 103.73 L 236.84 109.08 L 237.91 102.39 L 238.58 103.06 L 239.52 101.05 L 240.18 111.76 L 240.99 138.51 L 242.41 198.67 L 242.86 212.09 L 243.34 216.05 L 244.01 218.73 L 244.68 198.67 L 245.35 186.63 L 246.29 195.99 L 247.62 229.42 L 248.42 242.8 L 249.36 218.73 L 250.43 165.24 L 251.37 125.12 L 252.44 98.37 L 253.37 101.05 L 254.44 111.75 L 255.11 122.44 L 255.78 130.47 L 256.45 99.71 L 257.38 98.37 L 258.32 96.37 L 259.39 99.71 L 260.33 101.72 L 261.4 102.38 L 262.73 178.61 L 263.4 202.68 L 264.07 206.69 L 265.41 207.36 L 266.75 208.7 L 268.08 205.35 L 269.42 206.69 L 271.69 197.33 L 272.5 205.35 L 273.43 218.73 L 274.77 245.47 L 275.84 245.47 L 276.51 218.73 L 277.44 204.02 L 278.11 218.73 L 278.78 226.75 L 279.58 218.73 L 280.39 191.98 L 281.19 151.86 L 282.12 118.43 L 282.79 107.73 L 284.13 104.39 L 285.2 107.73 L 286.14 111.75 L 287.07 97.04 L 288.14 99.71 L 290.15 102.38 L 291.62 123.78 L 292.42 111.75 L 293.22 106.4 L 294.16 108.4 L 295.09 105.06 L 295.9 99.71 L 296.7 101.05 L 298.44 165.24 L 300.18 195.99 L 301.11 197.33 L 302.18 205.35 L 303.12 221.4 L 304.86 204.02 L 305.79 218.73 L 306.6 226.75 L 307.53 208.03 L 309.27 129.13 L 310.21 111.75 L 312.21 99.71 L 313.28 98.37 L 314.22 99.04 L 315.15 105.06 L 316.22 114.42 L 317.29 99.71 L 318.23 93.69 L 319.57 94.36 L 322.24 99.71 L 323.18 107.73 L 324.25 93.69 L 325.58 94.36 L 326.92 95.7 L 329.2 100 L 330.7 106 L 331.75 95.5 L 332.8 97 L 334 107.5 L 335.05 120.25 L 336.25 103 L 337.75 91.75 L 339.25 96.25 L 340.75 94 L 342.25 97.75 L 343.75 94 L 345.25 95.5 L 347.5 94 L 349.75 94.75 L 351.25 96.25 L 353.5 97 L 355 94.75 L 358 94 L 359.5 103 L 361 119.2 L 362.5 94.75 L 364.75 94.75 L 366.7 110.5 L 368.5 98.5 L 370 97 L 371.5 93.25 L 373.75 94.75 L 376.75 93.25 L 378.25 104.5 L 379.3 97 L 380.5 101.5 L 382 106 L 383.5 100 L 384.7 106 L 385.75 112 L 386.8 95.5 L 388.75 94 L 391 93.25 L 393.25 94 L 394.75 95.5 L 396.25 92.5 L 397.75 101.5 L 398.8 103 L 400 98.5 L 402.25 96.25 L 403.75 94 L 406 94.75 L 408.25 97 L 410.2 100.75 L 412 96.25 L 414.25 93.25 L 416.5 92.5 L 418.75 96.25 L 419.8 93.25 L 421 97 L 421.75 166.75 L 422.8 94.75 L 424.75 96.25 L 426.99 95.5 L 429.24 93.25 L 431.49 94 L 433.74 92.5 L 435.99 93.25 L 437.79 95.5 L 438.99 92.5 L 440.49 97.75 L 441.99 94.75 L 444.24 93.25 L 445.74 94 L 446.79 104.5 L 447.69 110.5 L 448.74 97 L 450.69 93.25 L 452.49 97 L 453.69 100.75 L 455.19 96.25 L 456.99 94.75 L 458.49 93.25 L 459.99 96.25 L 461.79 102.25 L 462.99 95.5 L 465.24 95.5 L 467.49 96.25 L 469.74 94.75 L 470.75 95.5 L 471.24 94.75 L 474.5 94.75 L 476.75 95.5 L 478.25 94.75 L 479.75 96.25 L 481.25 94.75 L 482.75 96.25 L 484.25 94.75 L 486.5 93.25 L 488 93.25 L 489.5 97.75 L 491 95.5 L 492.5 94 L 494.75 94 L 495.8 98.5 L 497 107.5 L 498.2 97 L 500 94.75 L 501.5 92.5 L 503 94 L 504.5 96.25 L 505.55 94.75 L 506.75 99.25 L 508.25 96.25 L 509.75 95.5 L 511.25 95.5 L 512.45 100.75 L 513.5 97 L 515 95.5 L 516.8 93.25 L 518.3 91.75 L 520.25 94.75 L 521.75 94 L 523.25 95.5 L 524.75 94.75 L 526.25 96.25 L 527.75 95.5 L 530.75 92.5 L 531.95 97 L 533 104.5 L 534.5 104.5 L 535.7 97 L 537.2 95.5 L 538.7 98.5 L 539.75 103 L 541.25 98.5 L 542.75 93.25 L 544.25 94 L 545.75 93.25 L 547.25 94.75 L 548.75 93.25 L 550.25 98.5 L 551.75 96.25 L 553.25 94.75 L 554.75 95.5 L 556.25 97.75 L 557.75 95.5 L 559.25 94.75 L 566 94.75 L 569 96.25 L 570.49 95.5 L 571.99 96.25 L 573.49 94.75 L 574.99 95.5 L 576.49 97 L 577.99 94.75 L 579.49 93.25 L 583.99 97.75 L 585.49 97 L 586.99 94 L 588.49 94.75 L 591.49 94.75 L 592.99 97 L 594.79 103 L 595.99 98.5 L 597.49 94 L 598.99 94.75 L 600.49 96.25 L 601.99 94.75 L 603.49 94 L 604.99 92.5 L 606.49 94 L 607.99 94.75 L 610.99 93.25 L 612.49 91.75 L 613.69 97.75 L 615.19 96.25 L 616.5 94.75 L 618 93.25 L 619.8 109 L 621.3 97 L 622.8 93.25 L 624.3 93.25 L 625.8 96.25 L 627 104.5 L 628.5 98.5 L 630 95.5 L 631.5 94 L 633 93.25 L 634.5 94.75 L 636 93.25 L 637.5 96.25 L 639 94.75 L 643.5 94.75 L 644.7 97.75 L 646.5 94 L 648.75 93.25 L 651 94.75 L 653.25 95.5 L 654.75 94.75 L 660.75 94.75 L 662.25 94 L 663.3 99.25 L 664.5 94 L 666 93.25 L 667.5 91.75 L 669 97 L 670.5 99.25 L 672 94.75 L 676.5 94.75 L 678 97.75 L 679.2 91.75 L 680.25 97.75 L 681.75 95.5 L 683.25 94.75 L 684.75 95.5 L 686.25 94 L 687.75 95.5 L 690.75 94 L 692.25 94.75 L 695.25 93.25 L 696.75 94.75 L 698.25 95.5 L 699.75 94.75 L 702.75 96.25 L 704.25 94 L 705.75 94 L 706.5 110.5 L 708 110.5 L 709.5 98.5 L 711 95.5 L 712.5 96.25 L 713.7 102.25 L 714.75 97 L 717.74 94 L 719.24 94.75 L 722.24 93.25 L 723.29 98.5 L 724.49 94.75 L 725.99 93.25 L 727.49 94 L 728.99 95.5 L 730.49 96.25 L 731.99 94.75 L 733.49 94 L 734.99 94 L 736.49 92.5 L 737.99 95.5 L 739.49 91.75 L 740.99 92.5 L 742.49 91.75 L 743.99 92.5 L 746.99 91 L 748.04 88.75 L 749.24 90.25 L 750.74 91.75 L 752.24 90.25 L 753.74 90.25 L 755.24 91.75 L 756.74 95.5 L 758.24 91.75 L 759.74 90.25 L 762.4 91.4 L 764 89.8 L 766.4 90.6 L 767.68 94.6 L 769.28 90.6 L 771.2 89.8 L 772.48 96.2 L 774.08 89.8 L 776 90.6 L 778.4 89.8 L 780.8 91.4 L 783.2 89.8 L 786.4 91.4 L 787.52 96.2 L 788.8 92.2 L 790.4 89.8 L 793.12 107.4 L 794.4 96.2 L 796 89.8 L 798.4 90.6 L 800 99.4 L 801.28 93.8 L 802.88 90.6 L 804.8 89.8 L 807.2 90.6 L 808.8 89.8 L 809.92 93.8 L 811.2 91.4 L 812 94.6 L 813.12 90.6 L 814.4 92.2 L 816 93.8 L 817.6 91.4 L 819.2 89.8 L 822.4 88.2 L 824 89.8 L 827.2 91.4 L 828.8 90.6 L 830.4 93.8 L 832 91.4 L 833.6 89.8 L 835.2 92.2 L 836.8 91.4 L 838.4 89.8 L 841.6 91.4 L 843.2 93.8 L 846.4 90.6 L 848 89.8 L 849.6 91.4 L 851.2 90.6 L 853.6 96.2 L 855.2 91.4 L 856.8 90.6 L 859.2 92.2 L 868.8 89.8 L 875.2 91.4 L 877.6 91.4 L 879.2 109 L 880.8 91.4 L 883.2 91.4 L 885.6 90.6 L 887.2 97.8 L 888.8 91.4 L 891.2 90.6 L 894.4 89.8 L 897.6 89.8 L 900 90.6 L 901.6 89 L 903.2 91.4 L 904.8 90.6 L 907.2 90.6 L 909.6 89.8 L 911.2 90.6 L 912.64 121.8 L 912.64 121.8 " clip-path="url(#pa664b8d14c)" style="fill: none; stroke: #45b7d1; stroke-opacity: 0.9; stroke-width: 1.8; stroke-linecap: square"/>
   </g>
   <g id="line2d_36">
    <path d="M 106.8 246.17 L 108.25 238.8 L 109.69 245.42 L 111.14 245.22 L 112.58 245.9 L 114.03 244.79 L 115.47 246.21 L 116.92 245.33 L 118.36 245.71 L 119.81 244 L 121.25 246.11 L 122.7 244.88 L 124.14 245.49 L 125.59 245.47 L 127.03 246 L 128.48 245.22 L 129.92 245.54 L 131.37 245 L 132.81 245.61 L 134.26 245.8 L 135.7 245.21 L 137.15 246 L 140.04 245.78 L 141.48 245.92 L 142.93 245.36 L 144.37 245.56 L 145.82 245.27 L 148.71 245.79 L 150.15 245.36 L 151.6 245.46 L 154.49 245.3 L 155.94 245.37 L 157.38 245.6 L 158.83 245.21 L 161.72 246.18 L 165 245.54 L 177.04 245.54 L 178.38 232.16 L 179.45 218.78 L 180.38 151.89 L 181.05 137.17 L 181.99 136.51 L 182.79 159.92 L 183.73 162.59 L 184.8 163.93 L 185.74 146.54 L 186.67 154.57 L 187.47 169.28 L 188.41 167.94 L 189.35 159.92 L 190.42 149.21 L 191.49 143.86 L 192.42 146.54 L 193.09 218.78 L 193.76 244.2 L 195.1 244.2 L 197.11 242.86 L 199.11 238.85 L 201.12 241.52 L 202.46 244.2 L 203.53 217.44 L 204.46 244.2 L 208.48 244.2 L 209.82 232.16 L 211.15 186.67 L 213.43 151.89 L 214.5 157.24 L 215.57 161.92 L 216.51 157.91 L 217.58 155.9 L 219.45 179.98 L 220.92 139.85 L 221.86 133.16 L 222.53 131.82 L 223.46 150.55 L 224.26 131.82 L 225.2 130.48 L 225.87 165.27 L 226.54 232.16 L 227.61 244.2 L 229.21 238.85 L 230.55 244.2 L 231.89 241.52 L 233.23 244.2 L 234.57 241.52 L 236.57 244.2 L 238.58 244.2 L 239.92 238.85 L 241.25 205.4 L 242.59 151.89 L 244.01 141.16 L 244.95 163.9 L 246.02 162.56 L 247.09 151.86 L 248.02 131.8 L 248.69 126.45 L 249.36 142.5 L 251.37 232.1 L 252.44 244.8 L 254.44 232.1 L 255.38 218.73 L 256.31 236.11 L 257.38 242.8 L 258.72 241.46 L 260.06 244.13 L 261.4 242.8 L 262.47 205.35 L 263.4 165.24 L 264.07 161.22 L 265.41 158.55 L 266.75 154.54 L 268.08 151.86 L 269.15 147.85 L 270.09 142.5 L 271.02 158.55 L 271.83 165.24 L 273.43 138.49 L 274.5 130.47 L 275.44 138.49 L 276.11 147.85 L 277.18 159.89 L 278.11 141.16 L 279.05 137.15 L 279.85 151.86 L 281.72 205.35 L 282.79 232.1 L 284.13 240.12 L 285.2 229.42 L 286.14 241.46 L 287.47 237.45 L 288.81 242.8 L 290.15 238.78 L 291.48 228.09 L 292.55 241.46 L 293.49 237.45 L 296.16 242.8 L 297.5 232.1 L 298.44 191.98 L 299.37 166.57 L 301.51 163.9 L 302.18 161.22 L 302.85 135.82 L 303.52 134.48 L 304.19 146.51 L 304.86 154.54 L 305.53 138.49 L 306.19 129.13 L 307.13 127.79 L 307.93 130.47 L 308.6 178.61 L 309.27 218.73 L 310.21 229.42 L 311.54 236.11 L 312.88 238.78 L 314.22 237.45 L 315.55 230.76 L 316.49 229.42 L 317.56 238.78 L 318.9 241.46 L 320.24 241.46 L 321.57 242.8 L 322.91 238.78 L 324.25 242.8 L 325.58 241.46 L 326.92 242.8 L 327.91 237.99 L 329.35 242.37 L 330.8 230.49 L 332.25 243.14 L 333.69 234.99 L 335.14 225.99 L 336.58 242.63 L 338.03 241.84 L 340.92 241.99 L 343.81 243.43 L 345.25 242.42 L 346.7 241.9 L 348.14 242.64 L 349.59 242.13 L 351.03 242.39 L 352.48 242.93 L 353.92 242.06 L 355.37 242.4 L 356.81 242 L 358.26 242.33 L 359.7 242.52 L 361.15 241.96 L 362.59 242.25 L 364.04 242.29 L 365.48 242.11 L 366.93 232.74 L 368.37 241.76 L 369.82 242.33 L 371.26 242.28 L 372.71 243.4 L 374.15 241.3 L 375.6 242.45 L 377.05 242.57 L 378.49 234.99 L 379.94 242.63 L 381.38 233.49 L 382.83 242.4 L 384.27 233.49 L 385.72 225.99 L 387.16 242.75 L 388.61 241.56 L 390.05 243.18 L 391.5 243.06 L 392.94 242.25 L 394.39 242.68 L 395.83 242.42 L 397.28 242.03 L 398.72 233.49 L 400.17 242.85 L 401.61 242.23 L 403.06 242.23 L 405.95 242.6 L 407.39 242.98 L 408.84 242.11 L 410.28 242.63 L 411.73 242.5 L 413.17 241.56 L 414.62 242.21 L 416.06 242.34 L 417.51 238.74 L 418.95 242.55 L 420.4 241.48 L 421.85 181 L 423.29 242.1 L 424.74 241.75 L 426.18 242.64 L 427.63 242.73 L 429.07 242.11 L 430.52 242.78 L 431.96 242.23 L 433.41 242.43 L 434.85 241.91 L 436.3 243.11 L 437.74 241.2 L 439.19 242.36 L 440.63 242.71 L 442.08 241.48 L 443.52 242.31 L 444.97 242.37 L 446.41 242.77 L 447.86 242.96 L 449.3 242.22 L 450.75 241.78 L 452.19 243.02 L 453.64 242.95 L 455.08 242.19 L 456.53 242.56 L 460.86 242.49 L 462.31 233.49 L 463.75 241.62 L 465.2 242.87 L 468.09 242.3 L 469.54 242.93 L 470.98 241.35 L 472.43 242.92 L 473.87 242.57 L 475.32 241.89 L 476.76 242.59 L 478.21 242.26 L 479.65 243.56 L 481.1 243.23 L 483.99 242.08 L 488.32 242.15 L 489.77 241.99 L 492.66 242.28 L 495.55 242.09 L 496.99 234.99 L 498.44 243.55 L 499.88 241.74 L 501.33 241.94 L 502.77 242.59 L 504.22 242.25 L 505.66 242.59 L 508.55 242.97 L 510 242.74 L 511.45 241.95 L 512.89 237.24 L 514.34 241.61 L 515.78 242.35 L 518.67 241.92 L 520.12 242.67 L 521.56 242.32 L 523.01 242.86 L 524.45 241.73 L 525.9 242.78 L 528.79 242.46 L 530.23 241.76 L 531.68 242.29 L 533.12 241.7 L 534.57 241.46 L 536.01 243.88 L 537.46 242.84 L 538.9 243.21 L 540.35 242.21 L 541.79 242.71 L 544.68 242.67 L 546.13 242.4 L 547.57 242.3 L 549.02 241.47 L 550.46 242.67 L 551.91 242.59 L 553.35 242.9 L 554.8 242.28 L 556.25 243.18 L 557.69 242.2 L 559.14 241.84 L 560.58 242.82 L 562.03 242.19 L 563.47 241.84 L 564.92 242.46 L 566.36 242.74 L 567.81 242.51 L 569.25 242.62 L 570.7 244.25 L 572.14 242.77 L 573.59 243.09 L 575.03 241.51 L 576.48 242.56 L 577.92 242.75 L 579.37 242.24 L 580.81 242.01 L 582.26 242.58 L 583.7 242.26 L 585.15 242.13 L 586.59 242.92 L 588.04 243 L 589.48 242.54 L 590.93 242.2 L 592.37 242.63 L 593.82 239.49 L 595.26 242.68 L 596.71 241.75 L 598.15 242.25 L 599.6 242.56 L 602.49 242.83 L 603.94 242.74 L 605.38 241.89 L 606.83 242.08 L 608.27 241.85 L 609.72 243.21 L 611.16 242.48 L 614.05 242.86 L 615.5 242.25 L 616.94 241.88 L 618.39 242.21 L 619.83 242.33 L 621.28 243.08 L 622.72 242.79 L 624.17 241.91 L 625.61 242.7 L 627.06 242.73 L 628.5 241.92 L 629.95 242.35 L 631.39 241.57 L 632.84 242.55 L 634.28 242.26 L 635.73 241.79 L 637.17 242.09 L 638.62 242.51 L 640.06 242.15 L 641.51 242.53 L 642.95 242.65 L 644.4 242.02 L 645.85 242.26 L 647.29 243.37 L 648.74 242.45 L 650.18 242.02 L 651.63 242.43 L 653.07 241.8 L 654.52 242.91 L 655.96 242.57 L 657.41 242.89 L 658.85 242.81 L 660.3 242.58 L 661.74 242.84 L 664.63 242.1 L 666.08 241.94 L 667.52 242.2 L 668.97 241.27 L 670.41 243.22 L 671.86 241.63 L 673.3 242.37 L 674.75 241.81 L 676.19 241.49 L 677.64 238.74 L 679.08 242.26 L 680.53 242.33 L 681.97 242.65 L 683.42 242.12 L 684.86 242.57 L 686.31 242.63 L 687.75 242.25 L 689.2 242.27 L 690.65 242.64 L 692.09 242.43 L 693.54 242.47 L 694.98 241.33 L 696.43 242.43 L 697.87 242.57 L 699.32 242.34 L 700.76 242.55 L 702.21 243.26 L 703.65 242.44 L 705.1 242.7 L 706.54 242.02 L 707.99 242.02 L 709.43 242.18 L 710.88 241.94 L 712.32 242.4 L 713.77 241.98 L 715.21 242.32 L 716.66 241.75 L 718.1 241.66 L 719.55 242.1 L 720.99 241.92 L 722.44 242.11 L 725.33 242.24 L 726.77 242.87 L 728.22 243.02 L 729.66 242.73 L 731.11 242.24 L 732.55 243.07 L 734 241.71 L 735.45 241.49 L 736.89 242.52 L 739.78 242.34 L 741.23 242.41 L 742.67 241.66 L 744.12 241.88 L 745.56 242.96 L 747.01 242.86 L 748.45 242.08 L 749.9 243.27 L 751.34 241.92 L 752.79 242.14 L 754.23 242.53 L 755.68 241.86 L 757.12 242.18 L 758.57 242.32 L 760.01 242.22 L 761.46 242.79 L 762.9 242.67 L 764.35 241.91 L 765.79 242.09 L 767.24 242.48 L 768.68 242.37 L 770.13 242.05 L 771.57 242.59 L 773.02 242.77 L 774.46 242.12 L 775.91 242.76 L 777.35 241.67 L 778.8 241.68 L 780.25 242.62 L 781.69 242.02 L 783.14 241.95 L 784.58 242.28 L 786.03 242.1 L 787.47 242.55 L 788.92 241.75 L 790.36 242.23 L 791.81 243.82 L 793.25 242.45 L 794.7 241.54 L 796.14 242.67 L 797.59 242.65 L 799.03 243.02 L 800.48 242.47 L 801.92 242.11 L 803.37 243.03 L 804.81 242.72 L 806.26 241.59 L 807.7 242.74 L 809.15 242.3 L 810.59 242.9 L 812.04 242.23 L 813.48 242.75 L 814.93 242.49 L 816.37 242.66 L 819.26 242.21 L 822.15 242.68 L 823.6 242.59 L 825.05 243.13 L 826.49 242.59 L 827.94 242.69 L 829.38 243.35 L 830.83 242.43 L 832.27 242.64 L 833.72 242.13 L 835.16 242.42 L 836.61 243.14 L 838.05 242.54 L 839.5 243.05 L 840.94 241.92 L 842.39 241.77 L 843.83 242.54 L 845.28 241.78 L 846.72 243.6 L 848.17 242.96 L 849.61 241.84 L 851.06 242.32 L 852.5 242.14 L 853.95 242.59 L 855.39 242.37 L 856.84 242.82 L 858.28 243.06 L 859.73 242.3 L 861.17 241.87 L 862.62 242.65 L 864.06 242.33 L 865.51 242.92 L 866.95 242.33 L 868.4 242.77 L 872.74 242.2 L 874.18 242.72 L 875.63 243.54 L 877.07 242.78 L 878.52 242.34 L 879.96 242.72 L 881.41 242.45 L 882.85 241.82 L 884.3 242.54 L 885.74 243.1 L 887.19 242.26 L 888.63 241.89 L 890.08 242.62 L 891.52 243.22 L 892.97 242.82 L 894.41 242.86 L 895.86 243.44 L 898.75 242.72 L 900.19 242.31 L 901.64 242.46 L 903.08 242.35 L 904.53 242.78 L 905.97 242 L 907.42 243.1 L 908.86 242.47 L 910.31 242.22 L 911.75 242.77 L 913.2 241.47 L 913.2 241.47 " clip-path="url(#pa664b8d14c)" style="fill: none; stroke: #96ceb4; stroke-opacity: 0.9; stroke-width: 1.8; stroke-linecap: square"/>
   </g>
   <g id="line2d_37">
    <path d="M 106.8 247.5 L 913.2 247.5 " clip-path="url(#pa664b8d14c)" style="fill: none; stroke: #ffeaa7; stroke-opacity: 0.9; stroke-width: 1.8; stroke-linecap: square"/>
   </g>
   <g id="patch_3">
    <path d="M 66.5 247.5 L 66.5 87.5 " style="fill: none; stroke: #000000; stroke-width: 0.8; stroke-linejoin: miter; stroke-linecap: square"/>
   </g>
   <g id="patch_4">
    <path d="M 953.5 247.5 L 953.5 87.5 " style="fill: none; stroke: #000000; stroke-width: 0.8; stroke-linejoin: miter; stroke-linecap: square"/>
   </g>
   <g id="patch_5">
    <path d="M 66.5 247.5 L 953.5 247.5 " style="fill: none; stroke: #000000; stroke-width: 0.8; stroke-linejoin: miter; stroke-linecap: square"/>
   </g>
   <g id="patch_6">
    <path d="M 66.5 87.5 L 953.5 87.5 " style="fill: none; stroke: #000000; stroke-width: 0.8; stroke-linejoin: miter; stroke-linecap: square"/>
   </g>
   <g id="text_18">
    <text style="font-weight: 700; font-size: 14.70px; font-family: 'Liberation Sans'; text-anchor: middle" x="510" y="81.5" transform="rotate(-0 510 81.5)" textLength="171.05" lengthAdjust="spacingAndGlyphs">CPU Usage Over Time</text>
   </g>
   <g id="legend_1">
    <g id="patch_7">
     <path d="M 863.375 170.251 L 946.500 170.251 Q 948.500 170.251 948.500 168.251 L 948.500 94.500 Q 948.500 92.500 946.500 92.500 L 863.375 92.500 Q 861.375 92.500 861.375 94.500 L 861.375 168.251 Q 861.375 170.251 863.375 170.251 z" style="fill: #ffffff; opacity: 0.8; stroke: #cccccc; stroke-linejoin: miter"/>
    </g>
    <g id="line2d_38">
     <path d="M 864.975 100.598 L 874.975 100.598 L 884.975 100.598" style="fill: none; stroke: #ff6b6b; stroke-opacity: 0.9; stroke-width: 1.8; stroke-linecap: square"/>
    </g>
    <g id="text_19">
     <text style="font-size: 10.50px; font-family: 'Liberation Sans'; text-anchor: start" x="893.375" y="105.098" transform="rotate(-0 893.375 105.098)" textLength="35.47" lengthAdjust="spacingAndGlyphs">User %</text>
    </g>
    <g id="line2d_39">
     <path d="M 864.975 115.617 L 874.975 115.617 L 884.975 115.617" style="fill: none; stroke: #4ecdc4; stroke-opacity: 0.9; stroke-width: 1.8; stroke-linecap: square"/>
    </g>
    <g id="text_20">
     <text style="font-size: 10.50px; font-family: 'Liberation Sans'; text-anchor: start" x="893.375" y="120.117" transform="rotate(-0 893.375 120.117)" textLength="49.97" lengthAdjust="spacingAndGlyphs">System %</text>
    </g>
    <g id="line2d_40">
     <path d="M 864.975 130.635 L 874.975 130.635 L 884.975 130.635" style="fill: none; stroke: #45b7d1; stroke-opacity: 0.9; stroke-width: 1.8; stroke-linecap: square"/>
    </g>
    <g id="text_21">
     <text style="font-size: 10.50px; font-family: 'Liberation Sans'; text-anchor: start" x="893.375" y="135.135" transform="rotate(-0 893.375 135.135)" textLength="30.91" lengthAdjust="spacingAndGlyphs">Idle %</text>
    </g>
    <g id="line2d_41">
     <path d="M 864.975 145.653 L 874.975 145.653 L 884.975 145.653" style="fill: none; stroke: #96ceb4; stroke-opacity: 0.9; stroke-width: 1.8; stroke-linecap: square"/>
    </g>
    <g id="text_22">
     <text style="font-size: 10.50px; font-family: 'Liberation Sans'; text-anchor: start" x="893.375" y="150.153" transform="rotate(-0 893.375 150.153)" textLength="52.12" lengthAdjust="spacingAndGlyphs">I/O Wait %</text>
    </g>
    <g id="line2d_42">
     <path d="M 864.975 160.671 L 874.975 160.671 L 884.975 160.671" style="fill: none; stroke: #ffeaa7; stroke-opacity: 0.9; stroke-width: 1.8; stroke-linecap: square"/>
    </g>
    <g id="text_23">
     <text style="font-size: 10.50px; font-family: 'Liberation Sans'; text-anchor: start" x="893.375" y="165.171" transform="rotate(-0 893.375 165.171)" textLength="44.34" lengthAdjust="spacingAndGlyphs">Stolen %</text>
    </g>
   </g>
  </g>
  <g id="axes_2">
   <g id="patch_8">
    <path d="M 66.5 481.5 L 953.5 481.5 L 953.5 320.5 L 66.5 320.5 z
" style="fill: #ffffff"/>
   </g>
   <g id="matplotlib.axis_3">
    <g id="xtick_11">
     <g id="line2d_43">
      <path d="M 123.4 481.5 L 123.4 320.5 " clip-path="url(#p88d85147dd)" style="fill: none; stroke: #b0b0b0; stroke-opacity: 0.3; stroke-width: 0.8; stroke-linecap: square"/>
     </g>
     <g id="line2d_44">
      <g>
       <use href="#m70ed4f7c57" x="123.4" y="481.5" style="stroke: #000000; stroke-width: 0.8"/>
      </g>
     </g>
     <g id="text_24">
      <text style="font-size: 10.50px; font-family: 'Liberation Sans'" transform="translate(108.040 525.996) rotate(-45)" textLength="44.72" lengthAdjust="spacingAndGlyphs">03 22:06</text>
     </g>
    </g>
    <g id="xtick_12">
     <g id="line2d_45">
      <path d="M 209.4 481.5 L 209.4 320.5 " clip-path="url(#p88d85147dd)" style="fill: none; stroke: #b0b0b0; stroke-opacity: 0.3; stroke-width: 0.8; stroke-linecap: square"/>
     </g>
     <g id="line2d_46">
      <g>
       <use href="#m70ed4f7c57" x="209.4" y="481.5" style="stroke: #000000; stroke-width: 0.8"/>
      </g>
     </g>
     <g id="text_25">
      <text style="font-size: 10.50px; font-family: 'Liberation Sans'" transform="translate(194.040 525.996) rotate(-45)" textLength="44.72" lengthAdjust="spacingAndGlyphs">03 22:07</text>
     </g>
    </g>
    <g id="xtick_13">
     <g id="line2d_47">
      <path d="M 296.6 481.5 L 296.6 320.5 " clip-path="url(#p88d85147dd)" style="fill: none; stroke: #b0b0b0; stroke-opacity: 0.3; stroke-width: 0.8; stroke-linecap: square"/>
     </g>
     <g id="line2d_48">
      <g>
       <use href="#m70ed4f7c57" x="296.6" y="481.5" style="stroke: #000000; stroke-width: 0.8"/>
      </g>
     </g>
     <g id="text_26">
      <text style="font-size: 10.50px; font-family: 'Liberation Sans'" transform="translate(281.240 525.996) rotate(-45)" textLength="44.72" lengthAdjust="spacingAndGlyphs">03 22:08</text>
     </g>
    </g>
    <g id="xtick_14">
     <g id="line2d_49">
      <path d="M 383.5 481.5 L 383.5 320.5 " clip-path="url(#p88d85147dd)" style="fill: none; stroke: #b0b0b0; stroke-opacity: 0.3; stroke-width: 0.8; stroke-linecap: square"/>
     </g>
     <g id="line2d_50">
      <g>
       <use href="#m70ed4f7c57" x="383.5" y="481.5" style="stroke: #000000; stroke-width: 0.8"/>
      </g>
     </g>
     <g id="text_27">
      <text style="font-size: 10.50px; font-family: 'Liberation Sans'" transform="translate(368.140 525.996) rotate(-45)" textLength="44.72" lengthAdjust="spacingAndGlyphs">03 22:09</text>
     </g>
    </g>
    <g id="xtick_15">
     <g id="line2d_51">
      <path d="M 469.4 481.5 L 469.4 320.5 " clip-path="url(#p88d85147dd)" style="fill: none; stroke: #b0b0b0; stroke-opacity: 0.3; stroke-width: 0.8; stroke-linecap: square"/>
     </g>
     <g id="line2d_52">
      <g>
       <use href="#m70ed4f7c57" x="469.4" y="481.5" style="stroke: #000000; stroke-width: 0.8"/>
      </g>
     </g>
     <g id="text_28">
      <text style="font-size: 10.50px; font-family: 'Liberation Sans'" transform="translate(454.040 525.996) rotate(-45)" textLength="44.72" lengthAdjust="spacingAndGlyphs">03 22:10</text>
     </g>
    </g>
    <g id="xtick_16">
     <g id="line2d_53">
      <path d="M 556.25 481.5 L 556.25 320.5 " clip-path="url(#p88d85147dd)" style="fill: none; stroke: #b0b0b0; stroke-opacity: 0.3; stroke-width: 0.8; stroke-linecap: square"/>
     </g>
     <g id="line2d_54">
      <g>
       <use href="#m70ed4f7c57" x="556.25" y="481.5" style="stroke: #000000; stroke-width: 0.8"/>
      </g>
     </g>
     <g id="text_29">
      <text style="font-size: 10.50px; font-family: 'Liberation Sans'" transform="translate(540.890 525.996) rotate(-45)" textLength="44.72" lengthAdjust="spacingAndGlyphs">03 22:11</text>
     </g>
    </g>
    <g id="xtick_17">
     <g id="line2d_55">
      <path d="M 643.4 481.5 L 643.4 320.5 " clip-path="url(#p88d85147dd)" style="fill: none; stroke: #b0b0b0; stroke-opacity: 0.3; stroke-width: 0.8; stroke-linecap: square"/>
     </g>
     <g id="line2d_56">
      <g>
       <use href="#m70ed4f7c57" x="643.4" y="481.5" style="stroke: #000000; stroke-width: 0.8"/>
      </g>
     </g>
     <g id="text_30">
      <text style="font-size: 10.50px; font-family: 'Liberation Sans'" transform="translate(628.040 525.996) rotate(-45)" textLength="44.72" lengthAdjust="spacingAndGlyphs">03 22:12</text>
     </g>
    </g>
    <g id="xtick_18">
     <g id="line2d_57">
      <path d="M 730.6 481.5 L 730.6 320.5 " clip-path="url(#p88d85147dd)" style="fill: none; stroke: #b0b0b0; stroke-opacity: 0.3; stroke-width: 0.8; stroke-linecap: square"/>
     </g>
     <g id="line2d_58">
      <g>
       <use href="#m70ed4f7c57" x="730.6" y="481.5" style="stroke: #000000; stroke-width: 0.8"/>
      </g>
     </g>
     <g id="text_31">
      <text style="font-size: 10.50px; font-family: 'Liberation Sans'" transform="translate(715.240 525.996) rotate(-45)" textLength="44.72" lengthAdjust="spacingAndGlyphs">03 22:13</text>
     </g>
    </g>
    <g id="xtick_19">
     <g id="line2d_59">
      <path d="M 816.6 481.5 L 816.6 320.5 " clip-path="url(#p88d85147dd)" style="fill: none; stroke: #b0b0b0; stroke-opacity: 0.3; stroke-width: 0.8; stroke-linecap: square"/>
     </g>
     <g id="line2d_60">
      <g>
       <use href="#m70ed4f7c57" x="816.6" y="481.5" style="stroke: #000000; stroke-width: 0.8"/>
      </g>
     </g>
     <g id="text_32">
      <text style="font-size: 10.50px; font-family: 'Liberation Sans'" transform="translate(801.240 525.996) rotate(-45)" textLength="44.72" lengthAdjust="spacingAndGlyphs">03 22:14</text>
     </g>
    </g>
    <g id="xtick_20">
     <g id="line2d_61">
      <path d="M 903.5 481.5 L 903.5 320.5 " clip-path="url(#p88d85147dd)" style="fill: none; stroke: #b0b0b0; stroke-opacity: 0.3; stroke-width: 0.8; stroke-linecap: square"/>
     </g>
     <g id="line2d_62">
      <g>
       <use href="#m70ed4f7c57" x="903.5" y="481.5" style="stroke: #000000; stroke-width: 0.8"/>
      </g>
     </g>
     <g id="text_33">
      <text style="font-size: 10.50px; font-family: 'Liberation Sans'" transform="translate(888.140 525.996) rotate(-45)" textLength="44.72" lengthAdjust="spacingAndGlyphs">03 22:15</text>
     </g>
    </g>
   </g>
   <g id="matplotlib.axis_4">
    <g id="ytick_7">
     <g id="line2d_63">
      <path d="M 66.5 474.5 L 953.5 474.5 " clip-path="url(#p88d85147dd)" style="fill: none; stroke: #b0b0b0; stroke-opacity: 0.3; stroke-width: 0.8; stroke-linecap: square"/>
     </g>
     <g id="line2d_64">
      <g>
       <use href="#m8c60a345ed" x="66.5" y="474.5" style="stroke: #000000; stroke-width: 0.8"/>
      </g>
     </g>
     <g id="text_34">
      <text style="font-size: 10.50px; font-family: 'Liberation Sans'; text-anchor: end" x="59.500" y="479.199" transform="rotate(-0 59.500 479.199)" textLength="6.36" lengthAdjust="spacingAndGlyphs">0</text>
     </g>
    </g>
    <g id="ytick_8">
     <g id="line2d_65">
      <path d="M 66.5 448.5 L 953.5 448.5 " clip-path="url(#p88d85147dd)" style="fill: none; stroke: #b0b0b0; stroke-opacity: 0.3; stroke-width: 0.8; stroke-linecap: square"/>
     </g>
     <g id="line2d_66">
      <g>
       <use href="#m8c60a345ed" x="66.5" y="448.5" style="stroke: #000000; stroke-width: 0.8"/>
      </g>
     </g>
     <g id="text_35">
      <text style="font-size: 10.50px; font-family: 'Liberation Sans'; text-anchor: end" x="59.500" y="453.199" transform="rotate(-0 59.500 453.199)" textLength="6.36" lengthAdjust="spacingAndGlyphs">1</text>
     </g>
    </g>
    <g id="ytick_9">
     <g id="line2d_67">
      <path d="M 66.5 423.5 L 953.5 423.5 " clip-path="url(#p88d85147dd)" style="fill: none; stroke: #b0b0b0; stroke-opacity: 0.3; stroke-width: 0.8; stroke-linecap: square"/>
     </g>
     <g id="line2d_68">
      <g>
       <use href="#m8c60a345ed" x="66.5" y="423.5" style="stroke: #000000; stroke-width: 0.8"/>
      </g>
     </g>
     <g id="text_36">
      <text style="font-size: 10.50px; font-family: 'Liberation Sans'; text-anchor: end" x="59.500" y="428.199" transform="rotate(-0 59.500 428.199)" textLength="6.36" lengthAdjust="spacingAndGlyphs">2</text>
     </g>
    </g>
    <g id="ytick_10">
     <g id="line2d_69">
      <path d="M 66.5 398.6 L 953.5 398.6 " clip-path="url(#p88d85147dd)" style="fill: none; stroke: #b0b0b0; stroke-opacity: 0.3; stroke-width: 0.8; stroke-linecap: square"/>
     </g>
     <g id="line2d_70">
      <g>
       <use href="#m8c60a345ed" x="66.5" y="398.6" style="stroke: #000000; stroke-width: 0.8"/>
      </g>
     </g>
     <g id="text_37">
      <text style="font-size: 10.50px; font-family: 'Liberation Sans'; text-anchor: end" x="59.500" y="403.299" transform="rotate(-0 59.500 403.299)" textLength="6.36" lengthAdjust="spacingAndGlyphs">3</text>
     </g>
    </g>
    <g id="ytick_11">
     <g id="line2d_71">
      <path d="M 66.5 372.4 L 953.5 372.4 " clip-path="url(#p88d85147dd)" style="fill: none; stroke: #b0b0b0; stroke-opacity: 0.3; stroke-width: 0.8; stroke-linecap: square"/>
     </g>
     <g id="line2d_72">
      <g>
       <use href="#m8c60a345ed" x="66.5" y="372.4" style="stroke: #000000; stroke-width: 0.8"/>
      </g>
     </g>
     <g id="text_38">
      <text style="font-size: 10.50px; font-family: 'Liberation Sans'; text-anchor: end" x="59.500" y="377.099" transform="rotate(-0 59.500 377.099)" textLength="6.36" lengthAdjust="spacingAndGlyphs">4</text>
     </g>
    </g>
    <g id="ytick_12">
     <g id="line2d_73">
      <path d="M 66.5 347.2 L 953.5 347.2 " clip-path="url(#p88d85147dd)" style="fill: none; stroke: #b0b0b0; stroke-opacity: 0.3; stroke-width: 0.8; stroke-linecap: square"/>
     </g>
     <g id="line2d_74">
      <g>
       <use href="#m8c60a345ed" x="66.5" y="347.2" style="stroke: #000000; stroke-width: 0.8"/>
      </g>
     </g>
     <g id="text_39">
      <text style="font-size: 10.50px; font-family: 'Liberation Sans'; text-anchor: end" x="59.500" y="351.899" transform="rotate(-0 59.500 351.899)" textLength="6.36" lengthAdjust="spacingAndGlyphs">5</text>
     </g>
    </g>
    <g id="ytick_13">
     <g id="line2d_75">
      <path d="M 66.5 321.5 L 953.5 321.5 " clip-path="url(#p88d85147dd)" style="fill: none; stroke: #b0b0b0; stroke-opacity: 0.3; stroke-width: 0.8; stroke-linecap: square"/>
     </g>
     <g id="line2d_76">
      <g>
       <use href="#m8c60a345ed" x="66.5" y="321.5" style="stroke: #000000; stroke-width: 0.8"/>
      </g>
     </g>
     <g id="text_40">
      <text style="font-size: 10.50px; font-family: 'Liberation Sans'; text-anchor: end" x="59.500" y="326.199" transform="rotate(-0 59.500 326.199)" textLength="6.36" lengthAdjust="spacingAndGlyphs">6</text>
     </g>
    </g>
    <g id="text_41">
     <text style="font-size: 10.50px; font-family: 'Liberation Sans'; text-anchor: middle" x="47.058" y="403.000" transform="rotate(-90 47.058 403.000)" textLength="69.04" lengthAdjust="spacingAndGlyphs">Memory (GiB)</text>
    </g>
   </g>
   <g id="line2d_77">
    <path d="M 106.6 327.46 L 109.9 327.46 L 111.44 329 L 113.2 332.3 L 115.4 333.84 L 117.6 336.04 L 119.8 336.7 L 123.76 336.7 L 125.96 338.9 L 128.16 342.64 L 130.8 345.5 L 132.56 347.7 L 135.2 352.1 L 138.5 357.6 L 141.8 363.1 L 144 365.3 L 146.2 368.61 L 148.84 373.01 L 151.71 377.85 L 154.57 382.47 L 157.21 385.11 L 159.85 389.51 L 162.71 394.57 L 165.57 399.41 L 167.77 402.71 L 169.97 404.91 L 172.61 409.31 L 175.25 413.71 L 177.45 417.01 L 179.21 413.05 L 180.97 410.85 L 182.51 407.77 L 184.71 405.57 L 186.91 403.81 L 189.11 401.17 L 191.31 397.65 L 193.51 394.35 L 195.71 398.31 L 197.91 402.71 L 200.11 407.11 L 202.31 410.41 L 204.51 413.71 L 206.71 415.47 L 209.35 419.21 L 211.11 416.57 L 213.31 412.61 L 215.51 410.41 L 217.71 408.21 L 219.91 405.57 L 221.67 401.17 L 223.65 398.31 L 225.85 396.55 L 227.61 398.31 L 229.81 401.61 L 232.01 405.35 L 234.21 407.77 L 236.41 411.51 L 238.17 414.81 L 239.71 417.45 L 241.25 416.57 L 243.01 414.37 L 244.77 410.85 L 246.97 407.77 L 249.17 407.11 L 251.38 404.47 L 253.36 408.21 L 255.12 410.85 L 257.32 413.05 L 258.86 415.25 L 261.28 418.77 L 262.82 415.91 L 264.58 413.71 L 267.22 410.85 L 269.42 406.67 L 271.62 403.37 L 273.82 402.05 L 276.02 401.17 L 277.78 397.21 L 279.98 394.57 L 281.74 395.67 L 283.06 398.31 L 285.26 401.61 L 287.46 403.81 L 289.66 407.77 L 291.86 411.51 L 294.06 415.25 L 296.48 418.77 L 298.02 415.91 L 300.22 412.17 L 302.42 409.31 L 304.62 406.45 L 306.82 401.17 L 308.58 397.65 L 309 397 L 319.2 397.4 L 335.2 398.6 L 364 399.6 L 383.2 400.2 L 421.6 401.2 L 469.6 401.8 L 524 402.2 L 556 402.5 L 600 402.8 L 632 403.1 L 705.6 403.4 L 708.8 404.1 L 760 404.1 L 824 404.4 L 913.2 404.4 " clip-path="url(#p88d85147dd)" style="fill: none; stroke: #74b9ff; stroke-width: 1.5; stroke-linecap: square"/>
   </g>
   <g id="line2d_78">
    <path d="M 106.6 471.8 L 177.01 471.8 L 179.21 472.24 L 210.01 472.46 L 214.41 473.12 L 254.02 473.12 L 262.82 473.56 L 300 473.2 L 620 472.9 L 913.2 472.2 " clip-path="url(#p88d85147dd)" style="fill: none; stroke: #55efc4; stroke-width: 1.5; stroke-linecap: square"/>
   </g>
   <g id="line2d_79">
    <path d="M 106.6 459.47 L 177.01 459.47 L 178.77 464.31 L 181.41 464.31 L 184.71 463.87 L 186.91 463.21 L 190.21 463.65 L 194.61 464.09 L 201.21 463.87 L 208.91 464.09 L 211.11 464.97 L 213.31 466.51 L 216.61 466.73 L 223.21 466.73 L 232.01 466.51 L 240.81 466.51 L 249.61 466.73 L 251.82 467.61 L 261.72 467.61 L 263.26 469.38 L 267.22 469.16 L 272.72 468.94 L 274.92 467.61 L 277.12 466.73 L 282.62 466.29 L 289.22 466.07 L 295.82 465.85 L 298.02 466.29 L 301.32 467.61 L 304.8 467.1 L 306.82 467.61 L 312.8 466.2 L 332 465.5 L 364 464.9 L 396 464.6 L 460 464.6 L 556 464.2 L 620 463.9 L 913.2 463.6 " clip-path="url(#p88d85147dd)" style="fill: none; stroke: #a29bfe; stroke-width: 1.5; stroke-linecap: square"/>
   </g>
   <g id="patch_9">
    <path d="M 66.5 481.5 L 66.5 320.5 " style="fill: none; stroke: #000000; stroke-width: 0.8; stroke-linejoin: miter; stroke-linecap: square"/>
   </g>
   <g id="patch_10">
    <path d="M 953.5 481.5 L 953.5 320.5 " style="fill: none; stroke: #000000; stroke-width: 0.8; stroke-linejoin: miter; stroke-linecap: square"/>
   </g>
   <g id="patch_11">
    <path d="M 66.5 481.5 L 953.5 481.5 " style="fill: none; stroke: #000000; stroke-width: 0.8; stroke-linejoin: miter; stroke-linecap: square"/>
   </g>
   <g id="patch_12">
    <path d="M 66.5 320.5 L 953.5 320.5 " style="fill: none; stroke: #000000; stroke-width: 0.8; stroke-linejoin: miter; stroke-linecap: square"/>
   </g>
   <g id="text_42">
    <text style="font-weight: 700; font-size: 14.70px; font-family: 'Liberation Sans'; text-anchor: middle" x="510" y="314.5" transform="rotate(-0 510 314.5)" textLength="202.81" lengthAdjust="spacingAndGlyphs">Memory Usage Over Time</text>
   </g>
   <g id="legend_2">
    <g id="patch_13">
     <path d="M 840.552 373.214 L 946.500 373.214 Q 948.500 373.214 948.500 371.214 L 948.500 327.500 Q 948.500 325.500 946.500 325.500 L 840.552 325.500 Q 838.552 325.500 838.552 327.500 L 838.552 371.214 Q 838.552 373.214 840.552 373.214 z" style="fill: #ffffff; opacity: 0.8; stroke: #cccccc; stroke-linejoin: miter"/>
    </g>
    <g id="line2d_80">
     <path d="M 842.152 333.598 L 852.152 333.598 L 862.152 333.598" style="fill: none; stroke: #74b9ff; stroke-width: 1.5; stroke-linecap: square"/>
    </g>
    <g id="text_43">
     <text style="font-size: 10.50px; font-family: 'Liberation Sans'; text-anchor: start" x="870.552" y="338.098" transform="rotate(-0 870.552 338.098)" textLength="65.07" lengthAdjust="spacingAndGlyphs">Free Memory</text>
    </g>
    <g id="line2d_81">
     <path d="M 842.152 348.617 L 852.152 348.617 L 862.152 348.617" style="fill: none; stroke: #55efc4; stroke-width: 1.5; stroke-linecap: square"/>
    </g>
    <g id="text_44">
     <text style="font-size: 10.50px; font-family: 'Liberation Sans'; text-anchor: start" x="870.552" y="353.117" transform="rotate(-0 870.552 353.117)" textLength="74.20" lengthAdjust="spacingAndGlyphs">Buffer Memory</text>
    </g>
    <g id="line2d_82">
     <path d="M 842.152 363.635 L 852.152 363.635 L 862.152 363.635" style="fill: none; stroke: #a29bfe; stroke-width: 1.5; stroke-linecap: square"/>
    </g>
    <g id="text_45">
     <text style="font-size: 10.50px; font-family: 'Liberation Sans'; text-anchor: start" x="870.552" y="368.135" transform="rotate(-0 870.552 368.135)" textLength="74.95" lengthAdjust="spacingAndGlyphs">Cache Memory</text>
    </g>
   </g>
  </g>
  <g id="axes_3">
   <g id="patch_14">
    <path d="M 66.5 714.5 L 953.5 714.5 L 953.5 554.5 L 66.5 554.5 z
" style="fill: #ffffff"/>
   </g>
   <g id="matplotlib.axis_5">
    <g id="xtick_21">
     <g id="line2d_83">
      <path d="M 123.4 714.5 L 123.4 554.5 " clip-path="url(#pb7020cfb58)" style="fill: none; stroke: #b0b0b0; stroke-opacity: 0.3; stroke-width: 0.8; stroke-linecap: square"/>
     </g>
     <g id="line2d_84">
      <g>
       <use href="#m70ed4f7c57" x="123.4" y="714.5" style="stroke: #000000; stroke-width: 0.8"/>
      </g>
     </g>
     <g id="text_46">
      <text style="font-size: 10.50px; font-family: 'Liberation Sans'" transform="translate(108.040 758.996) rotate(-45)" textLength="44.72" lengthAdjust="spacingAndGlyphs">03 22:06</text>
     </g>
    </g>
    <g id="xtick_22">
     <g id="line2d_85">
      <path d="M 209.4 714.5 L 209.4 554.5 " clip-path="url(#pb7020cfb58)" style="fill: none; stroke: #b0b0b0; stroke-opacity: 0.3; stroke-width: 0.8; stroke-linecap: square"/>
     </g>
     <g id="line2d_86">
      <g>
       <use href="#m70ed4f7c57" x="209.4" y="714.5" style="stroke: #000000; stroke-width: 0.8"/>
      </g>
     </g>
     <g id="text_47">
      <text style="font-size: 10.50px; font-family: 'Liberation Sans'" transform="translate(194.040 758.996) rotate(-45)" textLength="44.72" lengthAdjust="spacingAndGlyphs">03 22:07</text>
     </g>
    </g>
    <g id="xtick_23">
     <g id="line2d_87">
      <path d="M 296.6 714.5 L 296.6 554.5 " clip-path="url(#pb7020cfb58)" style="fill: none; stroke: #b0b0b0; stroke-opacity: 0.3; stroke-width: 0.8; stroke-linecap: square"/>
     </g>
     <g id="line2d_88">
      <g>
       <use href="#m70ed4f7c57" x="296.6" y="714.5" style="stroke: #000000; stroke-width: 0.8"/>
      </g>
     </g>
     <g id="text_48">
      <text style="font-size: 10.50px; font-family: 'Liberation Sans'" transform="translate(281.240 758.996) rotate(-45)" textLength="44.72" lengthAdjust="spacingAndGlyphs">03 22:08</text>
     </g>
    </g>
    <g id="xtick_24">
     <g id="line2d_89">
      <path d="M 383.5 714.5 L 383.5 554.5 " clip-path="url(#pb7020cfb58)" style="fill: none; stroke: #b0b0b0; stroke-opacity: 0.3; stroke-width: 0.8; stroke-linecap: square"/>
     </g>
     <g id="line2d_90">
      <g>
       <use href="#m70ed4f7c57" x="383.5" y="714.5" style="stroke: #000000; stroke-width: 0.8"/>
      </g>
     </g>
     <g id="text_49">
      <text style="font-size: 10.50px; font-family: 'Liberation Sans'" transform="translate(368.140 758.996) rotate(-45)" textLength="44.72" lengthAdjust="spacingAndGlyphs">03 22:09</text>
     </g>
    </g>
    <g id="xtick_25">
     <g id="line2d_91">
      <path d="M 469.4 714.5 L 469.4 554.5 " clip-path="url(#pb7020cfb58)" style="fill: none; stroke: #b0b0b0; stroke-opacity: 0.3; stroke-width: 0.8; stroke-linecap: square"/>
     </g>
     <g id="line2d_92">
      <g>
       <use href="#m70ed4f7c57" x="469.4" y="714.5" style="stroke: #000000; stroke-width: 0.8"/>
      </g>
     </g>
     <g id="text_50">
      <text style="font-size: 10.50px; font-family: 'Liberation Sans'" transform="translate(454.040 758.996) rotate(-45)" textLength="44.72" lengthAdjust="spacingAndGlyphs">03 22:10</text>
     </g>
    </g>
    <g id="xtick_26">
     <g id="line2d_93">
      <path d="M 556.25 714.5 L 556.25 554.5 " clip-path="url(#pb7020cfb58)" style="fill: none; stroke: #b0b0b0; stroke-opacity: 0.3; stroke-width: 0.8; stroke-linecap: square"/>
     </g>
     <g id="line2d_94">
      <g>
       <use href="#m70ed4f7c57" x="556.25" y="714.5" style="stroke: #000000; stroke-width: 0.8"/>
      </g>
     </g>
     <g id="text_51">
      <text style="font-size: 10.50px; font-family: 'Liberation Sans'" transform="translate(540.890 758.996) rotate(-45)" textLength="44.72" lengthAdjust="spacingAndGlyphs">03 22:11</text>
     </g>
    </g>
    <g id="xtick_27">
     <g id="line2d_95">
      <path d="M 643.4 714.5 L 643.4 554.5 " clip-path="url(#pb7020cfb58)" style="fill: none; stroke: #b0b0b0; stroke-opacity: 0.3; stroke-width: 0.8; stroke-linecap: square"/>
     </g>
     <g id="line2d_96">
      <g>
       <use href="#m70ed4f7c57" x="643.4" y="714.5" style="stroke: #000000; stroke-width: 0.8"/>
      </g>
     </g>
     <g id="text_52">
      <text style="font-size: 10.50px; font-family: 'Liberation Sans'" transform="translate(628.040 758.996) rotate(-45)" textLength="44.72" lengthAdjust="spacingAndGlyphs">03 22:12</text>
     </g>
    </g>
    <g id="xtick_28">
     <g id="line2d_97">
      <path d="M 730.6 714.5 L 730.6 554.5 " clip-path="url(#pb7020cfb58)" style="fill: none; stroke: #b0b0b0; stroke-opacity: 0.3; stroke-width: 0.8; stroke-linecap: square"/>
     </g>
     <g id="line2d_98">
      <g>
       <use href="#m70ed4f7c57" x="730.6" y="714.5" style="stroke: #000000; stroke-width: 0.8"/>
      </g>
     </g>
     <g id="text_53">
      <text style="font-size: 10.50px; font-family: 'Liberation Sans'" transform="translate(715.240 758.996) rotate(-45)" textLength="44.72" lengthAdjust="spacingAndGlyphs">03 22:13</text>
     </g>
    </g>
    <g id="xtick_29">
     <g id="line2d_99">
      <path d="M 816.6 714.5 L 816.6 554.5 " clip-path="url(#pb7020cfb58)" style="fill: none; stroke: #b0b0b0; stroke-opacity: 0.3; stroke-width: 0.8; stroke-linecap: square"/>
     </g>
     <g id="line2d_100">
      <g>
       <use href="#m70ed4f7c57" x="816.6" y="714.5" style="stroke: #000000; stroke-width: 0.8"/>
      </g>
     </g>
     <g id="text_54">
      <text style="font-size: 10.50px; font-family: 'Liberation Sans'" transform="translate(801.240 758.996) rotate(-45)" textLength="44.72" lengthAdjust="spacingAndGlyphs">03 22:14</text>
     </g>
    </g>
    <g id="xtick_30">
     <g id="line2d_101">
      <path d="M 903.5 714.5 L 903.5 554.5 " clip-path="url(#pb7020cfb58)" style="fill: none; stroke: #b0b0b0; stroke-opacity: 0.3; stroke-width: 0.8; stroke-linecap: square"/>
     </g>
     <g id="line2d_102">
      <g>
       <use href="#m70ed4f7c57" x="903.5" y="714.5" style="stroke: #000000; stroke-width: 0.8"/>
      </g>
     </g>
     <g id="text_55">
      <text style="font-size: 10.50px; font-family: 'Liberation Sans'" transform="translate(888.140 758.996) rotate(-45)" textLength="44.72" lengthAdjust="spacingAndGlyphs">03 22:15</text>
     </g>
    </g>
   </g>
   <g id="matplotlib.axis_6">
    <g id="ytick_14">
     <g id="line2d_103">
      <path d="M 66.5 707.6 L 953.5 707.6 " clip-path="url(#pb7020cfb58)" style="fill: none; stroke: #b0b0b0; stroke-opacity: 0.3; stroke-width: 0.8; stroke-linecap: square"/>
     </g>
     <g id="line2d_104">
      <g>
       <use href="#m8c60a345ed" x="66.5" y="707.6" style="stroke: #000000; stroke-width: 0.8"/>
      </g>
     </g>
     <g id="text_56">
      <text style="font-size: 10.50px; font-family: 'Liberation Sans'; text-anchor: end" x="59.500" y="712.299" transform="rotate(-0 59.500 712.299)" textLength="6.36" lengthAdjust="spacingAndGlyphs">0</text>
     </g>
    </g>
    <g id="ytick_15">
     <g id="line2d_105">
      <path d="M 66.5 670.5 L 953.5 670.5 " clip-path="url(#pb7020cfb58)" style="fill: none; stroke: #b0b0b0; stroke-opacity: 0.3; stroke-width: 0.8; stroke-linecap: square"/>
     </g>
     <g id="line2d_106">
      <g>
       <use href="#m8c60a345ed" x="66.5" y="670.5" style="stroke: #000000; stroke-width: 0.8"/>
      </g>
     </g>
     <g id="text_57">
      <text style="font-size: 10.50px; font-family: 'Liberation Sans'; text-anchor: end" x="59.500" y="675.199" transform="rotate(-0 59.500 675.199)" textLength="6.36" lengthAdjust="spacingAndGlyphs">2</text>
     </g>
    </g>
    <g id="ytick_16">
     <g id="line2d_107">
      <path d="M 66.5 633.4 L 953.5 633.4 " clip-path="url(#pb7020cfb58)" style="fill: none; stroke: #b0b0b0; stroke-opacity: 0.3; stroke-width: 0.8; stroke-linecap: square"/>
     </g>
     <g id="line2d_108">
      <g>
       <use href="#m8c60a345ed" x="66.5" y="633.4" style="stroke: #000000; stroke-width: 0.8"/>
      </g>
     </g>
     <g id="text_58">
      <text style="font-size: 10.50px; font-family: 'Liberation Sans'; text-anchor: end" x="59.500" y="638.099" transform="rotate(-0 59.500 638.099)" textLength="6.36" lengthAdjust="spacingAndGlyphs">4</text>
     </g>
    </g>
    <g id="ytick_17">
     <g id="line2d_109">
      <path d="M 66.5 596.3 L 953.5 596.3 " clip-path="url(#pb7020cfb58)" style="fill: none; stroke: #b0b0b0; stroke-opacity: 0.3; stroke-width: 0.8; stroke-linecap: square"/>
     </g>
     <g id="line2d_110">
      <g>
       <use href="#m8c60a345ed" x="66.5" y="596.3" style="stroke: #000000; stroke-width: 0.8"/>
      </g>
     </g>
     <g id="text_59">
      <text style="font-size: 10.50px; font-family: 'Liberation Sans'; text-anchor: end" x="59.500" y="600.999" transform="rotate(-0 59.500 600.999)" textLength="6.36" lengthAdjust="spacingAndGlyphs">6</text>
     </g>
    </g>
    <g id="ytick_18">
     <g id="line2d_111">
      <path d="M 66.5 559.3 L 953.5 559.3 " clip-path="url(#pb7020cfb58)" style="fill: none; stroke: #b0b0b0; stroke-opacity: 0.3; stroke-width: 0.8; stroke-linecap: square"/>
     </g>
     <g id="line2d_112">
      <g>
       <use href="#m8c60a345ed" x="66.5" y="559.3" style="stroke: #000000; stroke-width: 0.8"/>
      </g>
     </g>
     <g id="text_60">
      <text style="font-size: 10.50px; font-family: 'Liberation Sans'; text-anchor: end" x="59.500" y="563.999" transform="rotate(-0 59.500 563.999)" textLength="6.36" lengthAdjust="spacingAndGlyphs">8</text>
     </g>
    </g>
    <g id="text_61">
     <text style="font-size: 10.50px; font-family: 'Liberation Sans'; text-anchor: middle" x="47.058" y="636.500" transform="rotate(-90 47.058 636.500)" textLength="83.58" lengthAdjust="spacingAndGlyphs">Swap Used (GiB)</text>
    </g>
   </g>
   <g id="line2d_113">
    <path d="M 106.8 706.9 L 178.88 706.88 L 193.6 678.4 L 208.8 678.4 L 211.2 672 L 217.6 662.4 L 226.4 645.6 L 240 645.6 L 251.2 624.32 L 261.6 624.32 L 280.8 584.48 L 296.8 584.48 L 308 561.1 L 308.8 561.12 L 320 561.12 L 420 561.1 L 421.6 561.6 L 594.4 561.6 L 596 561.9 L 911.7 561.9 L 913.2 680 " clip-path="url(#pb7020cfb58)" style="fill: none; stroke: #e17055; stroke-width: 2; stroke-linecap: square"/>
   </g>
   <g id="patch_15">
    <path d="M 66.5 714.5 L 66.5 554.5 " style="fill: none; stroke: #000000; stroke-width: 0.8; stroke-linejoin: miter; stroke-linecap: square"/>
   </g>
   <g id="patch_16">
    <path d="M 953.5 714.5 L 953.5 554.5 " style="fill: none; stroke: #000000; stroke-width: 0.8; stroke-linejoin: miter; stroke-linecap: square"/>
   </g>
   <g id="patch_17">
    <path d="M 66.5 714.5 L 953.5 714.5 " style="fill: none; stroke: #000000; stroke-width: 0.8; stroke-linejoin: miter; stroke-linecap: square"/>
   </g>
   <g id="patch_18">
    <path d="M 66.5 554.5 L 953.5 554.5 " style="fill: none; stroke: #000000; stroke-width: 0.8; stroke-linejoin: miter; stroke-linecap: square"/>
   </g>
   <g id="text_62">
    <text style="font-weight: 700; font-size: 14.70px; font-family: 'Liberation Sans'; text-anchor: middle" x="510" y="548.5" transform="rotate(-0 510 548.5)" textLength="107.73" lengthAdjust="spacingAndGlyphs">Swap Activity</text>
   </g>
   <g id="legend_3">
    <g id="patch_19">
     <path d="M 73.500 577.178 L 189.080 577.178 Q 191.080 577.178 191.080 575.178 L 191.080 561.500 Q 191.080 559.500 189.080 559.500 L 73.500 559.500 Q 71.500 559.500 71.500 561.500 L 71.500 575.178 Q 71.500 577.178 73.500 577.178 z" style="fill: #ffffff; opacity: 0.8; stroke: #cccccc; stroke-linejoin: miter"/>
    </g>
    <g id="line2d_114">
     <path d="M 75.500 567.598 L 85.500 567.598 L 95.500 567.598" style="fill: none; stroke: #e17055; stroke-width: 2; stroke-linecap: square"/>
    </g>
    <g id="text_63">
     <text style="font-size: 10.50px; font-family: 'Liberation Sans'; text-anchor: start" x="103.500" y="572.098" transform="rotate(-0 103.500 572.098)" textLength="83.58" lengthAdjust="spacingAndGlyphs">Swap Used (GiB)</text>
    </g>
   </g>
  </g>
  <g id="axes_4">
   <g id="patch_20">
    <path d="M 66.5 948.5 L 953.5 948.5 L 953.5 788.5 L 66.5 788.5 z
" style="fill: #ffffff"/>
   </g>
   <g id="matplotlib.axis_7">
    <g id="xtick_31">
     <g id="line2d_115">
      <path d="M 123.4 948.5 L 123.4 788.5 " clip-path="url(#pbb9e67f13a)" style="fill: none; stroke: #b0b0b0; stroke-opacity: 0.3; stroke-width: 0.8; stroke-linecap: square"/>
     </g>
     <g id="line2d_116">
      <g>
       <use href="#m70ed4f7c57" x="123.4" y="948.5" style="stroke: #000000; stroke-width: 0.8"/>
      </g>
     </g>
     <g id="text_64">
      <text style="font-size: 10.50px; font-family: 'Liberation Sans'" transform="translate(108.040 992.996) rotate(-45)" textLength="44.72" lengthAdjust="spacingAndGlyphs">03 22:06</text>
     </g>
    </g>
    <g id="xtick_32">
     <g id="line2d_117">
      <path d="M 209.4 948.5 L 209.4 788.5 " clip-path="url(#pbb9e67f13a)" style="fill: none; stroke: #b0b0b0; stroke-opacity: 0.3; stroke-width: 0.8; stroke-linecap: square"/>
     </g>
     <g id="line2d_118">
      <g>
       <use href="#m70ed4f7c57" x="209.4" y="948.5" style="stroke: #000000; stroke-width: 0.8"/>
      </g>
     </g>
     <g id="text_65">
      <text style="font-size: 10.50px; font-family: 'Liberation Sans'" transform="translate(194.040 992.996) rotate(-45)" textLength="44.72" lengthAdjust="spacingAndGlyphs">03 22:07</text>
     </g>
    </g>
    <g id="xtick_33">
     <g id="line2d_119">
      <path d="M 296.6 948.5 L 296.6 788.5 " clip-path="url(#pbb9e67f13a)" style="fill: none; stroke: #b0b0b0; stroke-opacity: 0.3; stroke-width: 0.8; stroke-linecap: square"/>
     </g>
     <g id="line2d_120">
      <g>
       <use href="#m70ed4f7c57" x="296.6" y="948.5" style="stroke: #000000; stroke-width: 0.8"/>
      </g>
     </g>
     <g id="text_66">
      <text style="font-size: 10.50px; font-family: 'Liberation Sans'" transform="translate(281.240 992.996) rotate(-45)" textLength="44.72" lengthAdjust="spacingAndGlyphs">03 22:08</text>
     </g>
    </g>
    <g id="xtick_34">
     <g id="line2d_121">
      <path d="M 383.5 948.5 L 383.5 788.5 " clip-path="url(#pbb9e67f13a)" style="fill: none; stroke: #b0b0b0; stroke-opacity: 0.3; stroke-width: 0.8; stroke-linecap: square"/>
     </g>
     <g id="line2d_122">
      <g>
       <use href="#m70ed4f7c57" x="383.5" y="948.5" style="stroke: #000000; stroke-width: 0.8"/>
      </g>
     </g>
     <g id="text_67">
      <text style="font-size: 10.50px; font-family: 'Liberation Sans'" transform="translate(368.140 992.996) rotate(-45)" textLength="44.72" lengthAdjust="spacingAndGlyphs">03 22:09</text>
     </g>
    </g>
    <g id="xtick_35">
     <g id="line2d_123">
      <path d="M 469.4 948.5 L 469.4 788.5 " clip-path="url(#pbb9e67f13a)" style="fill: none; stroke: #b0b0b0; stroke-opacity: 0.3; stroke-width: 0.8; stroke-linecap: square"/>
     </g>
     <g id="line2d_124">
      <g>
       <use href="#m70ed4f7c57" x="469.4" y="948.5" style="stroke: #000000; stroke-width: 0.8"/>
      </g>
     </g>
     <g id="text_68">
      <text style="font-size: 10.50px; font-family: 'Liberation Sans'" transform="translate(454.040 992.996) rotate(-45)" textLength="44.72" lengthAdjust="spacingAndGlyphs">03 22:10</text>
     </g>
    </g>
    <g id="xtick_36">
     <g id="line2d_125">
      <path d="M 556.25 948.5 L 556.25 788.5 " clip-path="url(#pbb9e67f13a)" style="fill: none; stroke: #b0b0b0; stroke-opacity: 0.3; stroke-width: 0.8; stroke-linecap: square"/>
     </g>
     <g id="line2d_126">
      <g>
       <use href="#m70ed4f7c57" x="556.25" y="948.5" style="stroke: #000000; stroke-width: 0.8"/>
      </g>
     </g>
     <g id="text_69">
      <text style="font-size: 10.50px; font-family: 'Liberation Sans'" transform="translate(540.890 992.996) rotate(-45)" textLength="44.72" lengthAdjust="spacingAndGlyphs">03 22:11</text>
     </g>
    </g>
    <g id="xtick_37">
     <g id="line2d_127">
      <path d="M 643.4 948.5 L 643.4 788.5 " clip-path="url(#pbb9e67f13a)" style="fill: none; stroke: #b0b0b0; stroke-opacity: 0.3; stroke-width: 0.8; stroke-linecap: square"/>
     </g>
     <g id="line2d_128">
      <g>
       <use href="#m70ed4f7c57" x="643.4" y="948.5" style="stroke: #000000; stroke-width: 0.8"/>
      </g>
     </g>
     <g id="text_70">
      <text style="font-size: 10.50px; font-family: 'Liberation Sans'" transform="translate(628.040 992.996) rotate(-45)" textLength="44.72" lengthAdjust="spacingAndGlyphs">03 22:12</text>
     </g>
    </g>
    <g id="xtick_38">
     <g id="line2d_129">
      <path d="M 730.6 948.5 L 730.6 788.5 " clip-path="url(#pbb9e67f13a)" style="fill: none; stroke: #b0b0b0; stroke-opacity: 0.3; stroke-width: 0.8; stroke-linecap: square"/>
     </g>
     <g id="line2d_130">
      <g>
       <use href="#m70ed4f7c57" x="730.6" y="948.5" style="stroke: #000000; stroke-width: 0.8"/>
      </g>
     </g>
     <g id="text_71">
      <text style="font-size: 10.50px; font-family: 'Liberation Sans'" transform="translate(715.240 992.996) rotate(-45)" textLength="44.72" lengthAdjust="spacingAndGlyphs">03 22:13</text>
     </g>
    </g>
    <g id="xtick_39">
     <g id="line2d_131">
      <path d="M 816.6 948.5 L 816.6 788.5 " clip-path="url(#pbb9e67f13a)" style="fill: none; stroke: #b0b0b0; stroke-opacity: 0.3; stroke-width: 0.8; stroke-linecap: square"/>
     </g>
     <g id="line2d_132">
      <g>
       <use href="#m70ed4f7c57" x="816.6" y="948.5" style="stroke: #000000; stroke-width: 0.8"/>
      </g>
     </g>
     <g id="text_72">
      <text style="font-size: 10.50px; font-family: 'Liberation Sans'" transform="translate(801.240 992.996) rotate(-45)" textLength="44.72" lengthAdjust="spacingAndGlyphs">03 22:14</text>
     </g>
    </g>
    <g id="xtick_40">
     <g id="line2d_133">
      <path d="M 903.5 948.5 L 903.5 788.5 " clip-path="url(#pbb9e67f13a)" style="fill: none; stroke: #b0b0b0; stroke-opacity: 0.3; stroke-width: 0.8; stroke-linecap: square"/>
     </g>
     <g id="line2d_134">
      <g>
       <use href="#m70ed4f7c57" x="903.5" y="948.5" style="stroke: #000000; stroke-width: 0.8"/>
      </g>
     </g>
     <g id="text_73">
      <text style="font-size: 10.50px; font-family: 'Liberation Sans'" transform="translate(888.140 992.996) rotate(-45)" textLength="44.72" lengthAdjust="spacingAndGlyphs">03 22:15</text>
     </g>
    </g>
   </g>
   <g id="matplotlib.axis_8">
    <g id="ytick_19">
     <g id="line2d_135">
      <path d="M 66.5 940.5 L 953.5 940.5 " clip-path="url(#pbb9e67f13a)" style="fill: none; stroke: #b0b0b0; stroke-opacity: 0.3; stroke-width: 0.8; stroke-linecap: square"/>
     </g>
     <g id="line2d_136">
      <g>
       <use href="#m8c60a345ed" x="66.5" y="940.5" style="stroke: #000000; stroke-width: 0.8"/>
      </g>
     </g>
     <g id="text_74">
      <text style="font-size: 10.50px; font-family: 'Liberation Sans'; text-anchor: end" x="59.500" y="945.199" transform="rotate(-0 59.500 945.199)" textLength="6.36" lengthAdjust="spacingAndGlyphs">0</text>
     </g>
    </g>
    <g id="ytick_20">
     <g id="line2d_137">
      <path d="M 66.5 907.55 L 953.5 907.55 " clip-path="url(#pbb9e67f13a)" style="fill: none; stroke: #b0b0b0; stroke-opacity: 0.3; stroke-width: 0.8; stroke-linecap: square"/>
     </g>
     <g id="line2d_138">
      <g>
       <use href="#m8c60a345ed" x="66.5" y="907.55" style="stroke: #000000; stroke-width: 0.8"/>
      </g>
     </g>
     <g id="text_75">
      <text style="font-size: 10.50px; font-family: 'Liberation Sans'; text-anchor: end" x="59.500" y="912.249" transform="rotate(-0 59.500 912.249)" textLength="31.81" lengthAdjust="spacingAndGlyphs">50000</text>
     </g>
    </g>
    <g id="ytick_21">
     <g id="line2d_139">
      <path d="M 66.5 873.5 L 953.5 873.5 " clip-path="url(#pbb9e67f13a)" style="fill: none; stroke: #b0b0b0; stroke-opacity: 0.3; stroke-width: 0.8; stroke-linecap: square"/>
     </g>
     <g id="line2d_140">
      <g>
       <use href="#m8c60a345ed" x="66.5" y="873.5" style="stroke: #000000; stroke-width: 0.8"/>
      </g>
     </g>
     <g id="text_76">
      <text style="font-size: 10.50px; font-family: 'Liberation Sans'; text-anchor: end" x="59.500" y="878.199" transform="rotate(-0 59.500 878.199)" textLength="38.17" lengthAdjust="spacingAndGlyphs">100000</text>
     </g>
    </g>
    <g id="ytick_22">
     <g id="line2d_141">
      <path d="M 66.5 840.5 L 953.5 840.5 " clip-path="url(#pbb9e67f13a)" style="fill: none; stroke: #b0b0b0; stroke-opacity: 0.3; stroke-width: 0.8; stroke-linecap: square"/>
     </g>
     <g id="line2d_142">
      <g>
       <use href="#m8c60a345ed" x="66.5" y="840.5" style="stroke: #000000; stroke-width: 0.8"/>
      </g>
     </g>
     <g id="text_77">
      <text style="font-size: 10.50px; font-family: 'Liberation Sans'; text-anchor: end" x="59.500" y="845.199" transform="rotate(-0 59.500 845.199)" textLength="38.17" lengthAdjust="spacingAndGlyphs">150000</text>
     </g>
    </g>
    <g id="ytick_23">
     <g id="line2d_143">
      <path d="M 66.5 806.4 L 953.5 806.4 " clip-path="url(#pbb9e67f13a)" style="fill: none; stroke: #b0b0b0; stroke-opacity: 0.3; stroke-width: 0.8; stroke-linecap: square"/>
     </g>
     <g id="line2d_144">
      <g>
       <use href="#m8c60a345ed" x="66.5" y="806.4" style="stroke: #000000; stroke-width: 0.8"/>
      </g>
     </g>
     <g id="text_78">
      <text style="font-size: 10.50px; font-family: 'Liberation Sans'; text-anchor: end" x="59.500" y="811.099" transform="rotate(-0 59.500 811.099)" textLength="38.17" lengthAdjust="spacingAndGlyphs">200000</text>
     </g>
    </g>
    <g id="text_79">
     <text style="font-size: 10.50px; font-family: 'Liberation Sans'; text-anchor: middle" x="15.245" y="870.500" transform="rotate(-90 15.245 870.500)" textLength="52.49" lengthAdjust="spacingAndGlyphs">Blocks/sec</text>
    </g>
   </g>
   <g id="line2d_145">
    <path d="M 106.8 940.3 L 108.25 937.7 L 109.69 940.09 L 111.14 939.83 L 112.58 940.15 L 115.47 940.09 L 118.36 940.2 L 119.81 940.02 L 122.7 940.09 L 124.14 940.23 L 125.59 940.22 L 127.03 939.99 L 128.48 940.02 L 129.92 940.24 L 131.37 940.3 L 134.26 940.07 L 135.7 940.28 L 137.15 940.11 L 140.04 940.3 L 142.93 940.16 L 144.37 940.24 L 145.82 940.07 L 148.71 940.08 L 153.05 940.13 L 155.94 940.16 L 158.83 940.19 L 160.27 940.3 L 161.72 939.96 L 163.16 940.3 L 166.05 940 L 170.39 940.28 L 171.83 940.02 L 173.28 940.18 L 174.72 940.16 L 176.17 939.95 L 177.6 940 L 179.2 939.2 L 180.48 922.4 L 181.6 927.2 L 182.72 935.2 L 184 938.4 L 185.28 932 L 186.4 923.68 L 187.52 933.6 L 188.8 939.2 L 190.08 937.6 L 191.2 935.2 L 192.32 934.4 L 193.6 937.6 L 195.2 939.68 L 198.4 939.2 L 200 936.48 L 201.28 939.2 L 202.4 937.6 L 203.52 939.2 L 204.8 938.4 L 206.4 939.2 L 208 939.68 L 209.6 938.4 L 211.2 939.2 L 212.8 938.4 L 214.4 936 L 215.68 932.8 L 216.8 930.4 L 217.92 925.6 L 218.88 932 L 220 935.2 L 221.6 934.4 L 226.4 939.2 L 228 938.4 L 229.12 937.12 L 230.4 938.72 L 231.68 937.6 L 232.8 938.4 L 234.4 939.2 L 236.8 939.68 L 239.2 939.68 L 240.8 939.2 L 242.4 937.6 L 243.52 936.8 L 244.8 939.2 L 245.92 936 L 248 925.92 L 250.08 937.6 L 251.2 939.2 L 252.8 939.68 L 254.4 939.2 L 255.68 937.6 L 256.8 938.4 L 257.92 937.6 L 259.2 939.2 L 260.8 939.68 L 262.4 937.6 L 263.68 933.6 L 264.8 932.8 L 265.92 934.4 L 267.2 937.6 L 268.8 939.2 L 270.08 937.6 L 271.2 938.4 L 272.8 935.2 L 273.92 922.4 L 274.56 906.4 L 275.2 916 L 276.48 922.4 L 277.6 925.6 L 279.2 932 L 280.8 935.2 L 282.4 939.2 L 284 937.6 L 285.12 932 L 285.92 931.2 L 286.72 939.2 L 288 939.68 L 289.6 939.2 L 290.88 937.6 L 292 936 L 293.12 937.6 L 294.4 936 L 295.68 938.4 L 296.8 939.2 L 298.4 939.2 L 300 938.4 L 301.6 939.2 L 302.88 935.2 L 304 934.4 L 305.6 934.88 L 306.88 934.4 L 308 932.8 L 309.12 935.2 L 310.08 936 L 310.88 931.2 L 312 937.6 L 313.28 936.8 L 314.4 939.2 L 316 936 L 317.6 938.4 L 319.2 939.2 L 320.68 940.21 L 322.13 940.07 L 323.57 938.5 L 325.02 939.95 L 326.46 940.24 L 327.91 939.97 L 329.35 935.4 L 330.8 940.14 L 332.25 937.5 L 333.69 940.3 L 335.14 932.4 L 336.58 940.21 L 338.03 940.28 L 339.47 940 L 340.92 940.3 L 342.36 940.14 L 343.81 940.27 L 345.25 940.04 L 346.7 940.03 L 348.14 940.3 L 351.03 940.17 L 353.92 940.21 L 356.81 939.88 L 359.7 939.94 L 361.15 933.9 L 362.59 940.07 L 365.48 940.15 L 366.93 933.6 L 368.37 940.1 L 371.26 940.16 L 372.71 940.03 L 379.94 940.14 L 381.38 936.3 L 382.83 940.19 L 385.72 940.08 L 388.61 940.3 L 390.05 939.77 L 391.5 940.21 L 395.83 940.01 L 397.28 937.8 L 398.72 940.27 L 400.17 940.14 L 401.61 940.17 L 403.06 940.06 L 404.5 940.16 L 405.95 940.13 L 407.39 940.26 L 410.28 940.14 L 413.17 940.22 L 414.62 940.18 L 416.06 939.97 L 417.51 940.27 L 418.95 940.01 L 420.4 940.03 L 421.85 933 L 423.29 940.21 L 424.74 940.3 L 426.18 939.95 L 427.63 940.3 L 429.07 940.3 L 430.52 940.09 L 433.41 940.08 L 436.3 939.99 L 437.74 939.95 L 439.19 940.13 L 442.08 940.3 L 443.52 940.03 L 444.97 939.9 L 446.41 940.17 L 447.86 940.09 L 449.3 940.19 L 452.19 940 L 456.53 940.18 L 457.97 940.03 L 459.42 940.25 L 460.86 939.98 L 462.31 936.6 L 463.75 940.17 L 465.2 939.99 L 466.65 940.01 L 468.09 940.15 L 475.32 940.06 L 476.76 940.3 L 478.21 940.07 L 479.65 940.3 L 481.1 940.08 L 482.54 940.3 L 485.43 940.2 L 488.32 939.98 L 489.77 940.27 L 491.21 940 L 492.66 940 L 494.1 940.3 L 495.55 940.3 L 496.99 940.15 L 499.88 940.07 L 501.33 940.19 L 504.22 939.97 L 505.66 936.9 L 507.11 940.18 L 508.55 939.96 L 511.45 940.16 L 512.89 940.3 L 515.78 940.15 L 517.23 940.3 L 518.67 940.02 L 520.12 940.06 L 521.56 940.25 L 524.45 940.2 L 525.9 939.84 L 527.34 940.24 L 531.68 940.23 L 533.12 938.3 L 534.57 940.16 L 537.46 939.93 L 538.9 940.16 L 540.35 940.06 L 547.57 940.2 L 549.02 940.02 L 550.46 940.26 L 551.91 940.19 L 553.35 939.85 L 554.8 940.22 L 556.25 939.91 L 557.69 940.01 L 559.14 940.28 L 560.58 938.1 L 562.03 940.07 L 563.47 940.04 L 564.92 940.19 L 566.36 939.93 L 567.81 940.2 L 569.25 940.11 L 570.7 940.24 L 573.59 940.02 L 575.03 940.17 L 580.81 940.03 L 583.7 940.24 L 586.59 940.01 L 590.93 940.28 L 592.37 940.04 L 593.82 940.18 L 595.26 940.1 L 596.71 939.89 L 601.05 940.09 L 606.83 940.03 L 608.27 939.96 L 609.72 940.21 L 611.16 940.08 L 612.61 940.24 L 614.05 940.05 L 615.5 940.3 L 616.94 940 L 618.39 940.01 L 619.83 940.23 L 621.28 940.3 L 622.72 940.05 L 624.17 940.3 L 627.06 940.24 L 631.39 939.96 L 635.73 940.13 L 637.17 940.07 L 638.62 940.16 L 640.06 939.95 L 641.51 940.2 L 642.95 940.04 L 644.4 940.3 L 647.29 940.06 L 648.74 940.09 L 650.18 939.96 L 651.63 940.17 L 653.07 940.03 L 655.96 940.29 L 657.41 940.19 L 663.19 940.28 L 666.08 940.01 L 667.52 940.18 L 670.41 939.79 L 671.86 940.22 L 673.3 940.19 L 674.75 940.02 L 676.19 940.3 L 679.08 940.09 L 680.53 940.03 L 681.97 940.29 L 683.42 940.1 L 692.09 940.04 L 693.54 940.23 L 694.98 939.99 L 696.43 940.23 L 699.32 940.05 L 702.21 940.15 L 706.54 940.18 L 707.99 938.2 L 709.43 940.07 L 710.88 940.3 L 713.77 939.87 L 715.21 940.17 L 716.66 940.3 L 718.1 940.29 L 719.55 940.16 L 723.88 940.13 L 725.33 940.09 L 726.77 940.3 L 728.22 940.1 L 729.66 940.27 L 731.11 939.96 L 732.55 940.06 L 734 940.01 L 735.45 940.2 L 736.89 940.07 L 741.23 940.17 L 742.67 940.27 L 744.12 940.08 L 745.56 940.22 L 748.45 940.08 L 751.34 940.3 L 752.79 939.84 L 754.23 940.23 L 755.68 940.3 L 757.12 940.13 L 760.01 940.27 L 762.9 940.18 L 764.35 940.3 L 768.68 940.23 L 770.13 940.04 L 773.02 940.17 L 775.91 940.07 L 777.35 940.3 L 778.8 940.19 L 780.25 940.24 L 781.69 939.99 L 783.14 940.09 L 786.03 940.13 L 787.47 940.3 L 788.92 940.3 L 790.36 940.17 L 793.25 940.13 L 794.7 940.09 L 796.14 940.26 L 799.03 940.03 L 800.48 940.23 L 801.92 940.13 L 806.26 940.27 L 812.04 940.14 L 816.37 940.21 L 823.6 940.17 L 825.05 940.3 L 826.49 940.06 L 827.94 940.01 L 829.38 940.3 L 833.72 940.06 L 835.16 940.3 L 839.5 940.09 L 840.94 940.07 L 842.39 940.3 L 845.28 940.03 L 846.72 940.08 L 848.17 940.28 L 853.95 940.08 L 855.39 940.18 L 858.28 940.08 L 859.73 940.15 L 864.06 939.98 L 869.85 940.16 L 871.29 940.05 L 872.74 940.28 L 874.18 940 L 875.63 940.27 L 877.07 940.01 L 881.41 940.25 L 882.85 940.05 L 884.3 940.16 L 885.74 940.01 L 888.63 940.2 L 890.08 940.08 L 891.52 940.3 L 895.86 940.08 L 901.64 940.23 L 904.53 940.05 L 905.97 940.01 L 907.42 940.3 L 910.31 940.3 L 911.75 940.13 L 913.2 940.3 L 913.2 940.3 " clip-path="url(#pbb9e67f13a)" style="fill: none; stroke: #00cec9; stroke-width: 1.5; stroke-linecap: square"/>
   </g>
   <g id="line2d_146">
    <path d="M 106.8 940.2 L 178.4 940.2 L 180 884 L 180.8 828 L 181.92 803.2 L 183.2 824.8 L 184.8 832.8 L 186.08 848 L 186.88 824.8 L 188 804 L 189.12 813.6 L 190.4 823.2 L 192 832.8 L 192.8 855.2 L 193.92 900 L 195.2 940.2 L 208.8 940.2 L 210.4 868 L 211.2 839.2 L 212.32 808.8 L 213.12 831.2 L 214.08 820 L 215.2 804 L 216.32 794.4 L 217.28 820 L 218.08 848.8 L 219.2 816.8 L 220.48 823.2 L 221.6 816.8 L 222.4 811.2 L 223.2 828 L 224 839.2 L 225.12 828.8 L 226.4 860 L 227.2 900 L 228.48 940.2 L 239.2 940.2 L 240.8 900 L 241.92 852 L 242.88 820 L 244 804 L 244.8 828 L 245.6 845.6 L 246.4 829.6 L 247.2 836 L 248 853.6 L 248.8 832.8 L 249.6 813.6 L 250.4 815.2 L 251.2 852 L 252 900 L 252.8 940.2 L 260.8 940.2 L 262.4 884 L 263.68 824.8 L 264.8 826.4 L 265.92 824 L 267.2 818.4 L 268.48 808 L 269.44 821.6 L 270.08 845.6 L 271.2 826.4 L 272 825.6 L 273.6 824.8 L 274.88 824 L 276 827.2 L 277.12 821.6 L 278.4 822.4 L 279.2 820.8 L 280.32 819.2 L 281.28 868 L 282.4 916 L 283.52 940.2 L 296 940.2 L 297.6 868 L 298.4 826.4 L 299.52 820 L 300.48 818.4 L 301.6 821.6 L 302.88 814.4 L 304 834.4 L 304.8 844 L 305.92 813.6 L 306.88 814.4 L 307.52 836 L 308.8 892 L 310.4 940.2 L 913.2 940.2 " clip-path="url(#pbb9e67f13a)" style="fill: none; stroke: #fd79a8; stroke-width: 1.5; stroke-linecap: square"/>
   </g>
   <g id="patch_21">
    <path d="M 66.5 948.5 L 66.5 788.5 " style="fill: none; stroke: #000000; stroke-width: 0.8; stroke-linejoin: miter; stroke-linecap: square"/>
   </g>
   <g id="patch_22">
    <path d="M 953.5 948.5 L 953.5 788.5 " style="fill: none; stroke: #000000; stroke-width: 0.8; stroke-linejoin: miter; stroke-linecap: square"/>
   </g>
   <g id="patch_23">
    <path d="M 66.5 948.5 L 953.5 948.5 " style="fill: none; stroke: #000000; stroke-width: 0.8; stroke-linejoin: miter; stroke-linecap: square"/>
   </g>
   <g id="patch_24">
    <path d="M 66.5 788.5 L 953.5 788.5 " style="fill: none; stroke: #000000; stroke-width: 0.8; stroke-linejoin: miter; stroke-linecap: square"/>
   </g>
   <g id="text_80">
    <text style="font-weight: 700; font-size: 14.70px; font-family: 'Liberation Sans'; text-anchor: middle" x="510" y="782.5" transform="rotate(-0 510 782.5)" textLength="87.47" lengthAdjust="spacingAndGlyphs">I/O Activity</text>
   </g>
   <g id="legend_4">
    <g id="patch_25">
     <path d="M 861.936 826.196 L 946.500 826.196 Q 948.500 826.196 948.500 824.196 L 948.500 795.500 Q 948.500 793.500 946.500 793.500 L 861.936 793.500 Q 859.936 793.500 859.936 795.500 L 859.936 824.196 Q 859.936 826.196 861.936 826.196 z" style="fill: #ffffff; opacity: 0.8; stroke: #cccccc; stroke-linejoin: miter"/>
    </g>
    <g id="line2d_147">
     <path d="M 863.536 801.598 L 873.536 801.598 L 883.536 801.598" style="fill: none; stroke: #00cec9; stroke-width: 1.5; stroke-linecap: square"/>
    </g>
    <g id="text_81">
     <text style="font-size: 10.50px; font-family: 'Liberation Sans'; text-anchor: start" x="891.936" y="806.098" transform="rotate(-0 891.936 806.098)" textLength="44.72" lengthAdjust="spacingAndGlyphs">Blocks In</text>
    </g>
    <g id="line2d_148">
     <path d="M 863.536 816.617 L 873.536 816.617 L 883.536 816.617" style="fill: none; stroke: #fd79a8; stroke-width: 1.5; stroke-linecap: square"/>
    </g>
    <g id="text_82">
     <text style="font-size: 10.50px; font-family: 'Liberation Sans'; text-anchor: start" x="891.936" y="821.117" transform="rotate(-0 891.936 821.117)" textLength="53.56" lengthAdjust="spacingAndGlyphs">Blocks Out</text>
    </g>
   </g>
  </g>
  <g id="axes_5">
   <g id="patch_26">
    <path d="M 66.5 1181.5 L 953.5 1181.5 L 953.5 1021.5 L 66.5 1021.5 z
" style="fill: #ffffff"/>
   </g>
   <g id="matplotlib.axis_9">
    <g id="xtick_41">
     <g id="line2d_149">
      <path d="M 123.4 1181.5 L 123.4 1021.5 " clip-path="url(#pc51d896e30)" style="fill: none; stroke: #b0b0b0; stroke-opacity: 0.3; stroke-width: 0.8; stroke-linecap: square"/>
     </g>
     <g id="line2d_150">
      <g>
       <use href="#m70ed4f7c57" x="123.4" y="1181.5" style="stroke: #000000; stroke-width: 0.8"/>
      </g>
     </g>
     <g id="text_83">
      <text style="font-size: 10.50px; font-family: 'Liberation Sans'" transform="translate(108.040 1225.996) rotate(-45)" textLength="44.72" lengthAdjust="spacingAndGlyphs">03 22:06</text>
     </g>
    </g>
    <g id="xtick_42">
     <g id="line2d_151">
      <path d="M 209.4 1181.5 L 209.4 1021.5 " clip-path="url(#pc51d896e30)" style="fill: none; stroke: #b0b0b0; stroke-opacity: 0.3; stroke-width: 0.8; stroke-linecap: square"/>
     </g>
     <g id="line2d_152">
      <g>
       <use href="#m70ed4f7c57" x="209.4" y="1181.5" style="stroke: #000000; stroke-width: 0.8"/>
      </g>
     </g>
     <g id="text_84">
      <text style="font-size: 10.50px; font-family: 'Liberation Sans'" transform="translate(194.040 1225.996) rotate(-45)" textLength="44.72" lengthAdjust="spacingAndGlyphs">03 22:07</text>
     </g>
    </g>
    <g id="xtick_43">
     <g id="line2d_153">
      <path d="M 296.6 1181.5 L 296.6 1021.5 " clip-path="url(#pc51d896e30)" style="fill: none; stroke: #b0b0b0; stroke-opacity: 0.3; stroke-width: 0.8; stroke-linecap: square"/>
     </g>
     <g id="line2d_154">
      <g>
       <use href="#m70ed4f7c57" x="296.6" y="1181.5" style="stroke: #000000; stroke-width: 0.8"/>
      </g>
     </g>
     <g id="text_85">
      <text style="font-size: 10.50px; font-family: 'Liberation Sans'" transform="translate(281.240 1225.996) rotate(-45)" textLength="44.72" lengthAdjust="spacingAndGlyphs">03 22:08</text>
     </g>
    </g>
    <g id="xtick_44">
     <g id="line2d_155">
      <path d="M 383.5 1181.5 L 383.5 1021.5 " clip-path="url(#pc51d896e30)" style="fill: none; stroke: #b0b0b0; stroke-opacity: 0.3; stroke-width: 0.8; stroke-linecap: square"/>
     </g>
     <g id="line2d_156">
      <g>
       <use href="#m70ed4f7c57" x="383.5" y="1181.5" style="stroke: #000000; stroke-width: 0.8"/>
      </g>
     </g>
     <g id="text_86">
      <text style="font-size: 10.50px; font-family: 'Liberation Sans'" transform="translate(368.140 1225.996) rotate(-45)" textLength="44.72" lengthAdjust="spacingAndGlyphs">03 22:09</text>
     </g>
    </g>
    <g id="xtick_45">
     <g id="line2d_157">
      <path d="M 469.4 1181.5 L 469.4 1021.5 " clip-path="url(#pc51d896e30)" style="fill: none; stroke: #b0b0b0; stroke-opacity: 0.3; stroke-width: 0.8; stroke-linecap: square"/>
     </g>
     <g id="line2d_158">
      <g>
       <use href="#m70ed4f7c57" x="469.4" y="1181.5" style="stroke: #000000; stroke-width: 0.8"/>
      </g>
     </g>
     <g id="text_87">
      <text style="font-size: 10.50px; font-family: 'Liberation Sans'" transform="translate(454.040 1225.996) rotate(-45)" textLength="44.72" lengthAdjust="spacingAndGlyphs">03 22:10</text>
     </g>
    </g>
    <g id="xtick_46">
     <g id="line2d_159">
      <path d="M 556.25 1181.5 L 556.25 1021.5 " clip-path="url(#pc51d896e30)" style="fill: none; stroke: #b0b0b0; stroke-opacity: 0.3; stroke-width: 0.8; stroke-linecap: square"/>
     </g>
     <g id="line2d_160">
      <g>
       <use href="#m70ed4f7c57" x="556.25" y="1181.5" style="stroke: #000000; stroke-width: 0.8"/>
      </g>
     </g>
     <g id="text_88">
      <text style="font-size: 10.50px; font-family: 'Liberation Sans'" transform="translate(540.890 1225.996) rotate(-45)" textLength="44.72" lengthAdjust="spacingAndGlyphs">03 22:11</text>
     </g>
    </g>
    <g id="xtick_47">
     <g id="line2d_161">
      <path d="M 643.4 1181.5 L 643.4 1021.5 " clip-path="url(#pc51d896e30)" style="fill: none; stroke: #b0b0b0; stroke-opacity: 0.3; stroke-width: 0.8; stroke-linecap: square"/>
     </g>
     <g id="line2d_162">
      <g>
       <use href="#m70ed4f7c57" x="643.4" y="1181.5" style="stroke: #000000; stroke-width: 0.8"/>
      </g>
     </g>
     <g id="text_89">
      <text style="font-size: 10.50px; font-family: 'Liberation Sans'" transform="translate(628.040 1225.996) rotate(-45)" textLength="44.72" lengthAdjust="spacingAndGlyphs">03 22:12</text>
     </g>
    </g>
    <g id="xtick_48">
     <g id="line2d_163">
      <path d="M 730.6 1181.5 L 730.6 1021.5 " clip-path="url(#pc51d896e30)" style="fill: none; stroke: #b0b0b0; stroke-opacity: 0.3; stroke-width: 0.8; stroke-linecap: square"/>
     </g>
     <g id="line2d_164">
      <g>
       <use href="#m70ed4f7c57" x="730.6" y="1181.5" style="stroke: #000000; stroke-width: 0.8"/>
      </g>
     </g>
     <g id="text_90">
      <text style="font-size: 10.50px; font-family: 'Liberation Sans'" transform="translate(715.240 1225.996) rotate(-45)" textLength="44.72" lengthAdjust="spacingAndGlyphs">03 22:13</text>
     </g>
    </g>
    <g id="xtick_49">
     <g id="line2d_165">
      <path d="M 816.6 1181.5 L 816.6 1021.5 " clip-path="url(#pc51d896e30)" style="fill: none; stroke: #b0b0b0; stroke-opacity: 0.3; stroke-width: 0.8; stroke-linecap: square"/>
     </g>
     <g id="line2d_166">
      <g>
       <use href="#m70ed4f7c57" x="816.6" y="1181.5" style="stroke: #000000; stroke-width: 0.8"/>
      </g>
     </g>
     <g id="text_91">
      <text style="font-size: 10.50px; font-family: 'Liberation Sans'" transform="translate(801.240 1225.996) rotate(-45)" textLength="44.72" lengthAdjust="spacingAndGlyphs">03 22:14</text>
     </g>
    </g>
    <g id="xtick_50">
     <g id="line2d_167">
      <path d="M 903.5 1181.5 L 903.5 1021.5 " clip-path="url(#pc51d896e30)" style="fill: none; stroke: #b0b0b0; stroke-opacity: 0.3; stroke-width: 0.8; stroke-linecap: square"/>
     </g>
     <g id="line2d_168">
      <g>
       <use href="#m70ed4f7c57" x="903.5" y="1181.5" style="stroke: #000000; stroke-width: 0.8"/>
      </g>
     </g>
     <g id="text_92">
      <text style="font-size: 10.50px; font-family: 'Liberation Sans'" transform="translate(888.140 1225.996) rotate(-45)" textLength="44.72" lengthAdjust="spacingAndGlyphs">03 22:15</text>
     </g>
    </g>
   </g>
   <g id="matplotlib.axis_10">
    <g id="ytick_24">
     <g id="line2d_169">
      <path d="M 66.5 1174.5 L 953.5 1174.5 " clip-path="url(#pc51d896e30)" style="fill: none; stroke: #b0b0b0; stroke-opacity: 0.3; stroke-width: 0.8; stroke-linecap: square"/>
     </g>
     <g id="line2d_170">
      <g>
       <use href="#m8c60a345ed" x="66.5" y="1174.5" style="stroke: #000000; stroke-width: 0.8"/>
      </g>
     </g>
     <g id="text_93">
      <text style="font-size: 10.50px; font-family: 'Liberation Sans'; text-anchor: end" x="59.500" y="1179.199" transform="rotate(-0 59.500 1179.199)" textLength="6.36" lengthAdjust="spacingAndGlyphs">0</text>
     </g>
    </g>
    <g id="ytick_25">
     <g id="line2d_171">
      <path d="M 66.5 1144.5 L 953.5 1144.5 " clip-path="url(#pc51d896e30)" style="fill: none; stroke: #b0b0b0; stroke-opacity: 0.3; stroke-width: 0.8; stroke-linecap: square"/>
     </g>
     <g id="line2d_172">
      <g>
       <use href="#m8c60a345ed" x="66.5" y="1144.5" style="stroke: #000000; stroke-width: 0.8"/>
      </g>
     </g>
     <g id="text_94">
      <text style="font-size: 10.50px; font-family: 'Liberation Sans'; text-anchor: end" x="59.500" y="1149.199" transform="rotate(-0 59.500 1149.199)" textLength="25.45" lengthAdjust="spacingAndGlyphs">5000</text>
     </g>
    </g>
    <g id="ytick_26">
     <g id="line2d_173">
      <path d="M 66.5 1113.45 L 953.5 1113.45 " clip-path="url(#pc51d896e30)" style="fill: none; stroke: #b0b0b0; stroke-opacity: 0.3; stroke-width: 0.8; stroke-linecap: square"/>
     </g>
     <g id="line2d_174">
      <g>
       <use href="#m8c60a345ed" x="66.5" y="1113.45" style="stroke: #000000; stroke-width: 0.8"/>
      </g>
     </g>
     <g id="text_95">
      <text style="font-size: 10.50px; font-family: 'Liberation Sans'; text-anchor: end" x="59.500" y="1118.149" transform="rotate(-0 59.500 1118.149)" textLength="31.81" lengthAdjust="spacingAndGlyphs">10000</text>
     </g>
    </g>
    <g id="ytick_27">
     <g id="line2d_175">
      <path d="M 66.5 1083.5 L 953.5 1083.5 " clip-path="url(#pc51d896e30)" style="fill: none; stroke: #b0b0b0; stroke-opacity: 0.3; stroke-width: 0.8; stroke-linecap: square"/>
     </g>
     <g id="line2d_176">
      <g>
       <use href="#m8c60a345ed" x="66.5" y="1083.5" style="stroke: #000000; stroke-width: 0.8"/>
      </g>
     </g>
     <g id="text_96">
      <text style="font-size: 10.50px; font-family: 'Liberation Sans'; text-anchor: end" x="59.500" y="1088.199" transform="rotate(-0 59.500 1088.199)" textLength="31.81" lengthAdjust="spacingAndGlyphs">15000</text>
     </g>
    </g>
    <g id="ytick_28">
     <g id="line2d_177">
      <path d="M 66.5 1053.3 L 953.5 1053.3 " clip-path="url(#pc51d896e30)" style="fill: none; stroke: #b0b0b0; stroke-opacity: 0.3; stroke-width: 0.8; stroke-linecap: square"/>
     </g>
     <g id="line2d_178">
      <g>
       <use href="#m8c60a345ed" x="66.5" y="1053.3" style="stroke: #000000; stroke-width: 0.8"/>
      </g>
     </g>
     <g id="text_97">
      <text style="font-size: 10.50px; font-family: 'Liberation Sans'; text-anchor: end" x="59.500" y="1057.999" transform="rotate(-0 59.500 1057.999)" textLength="31.81" lengthAdjust="spacingAndGlyphs">20000</text>
     </g>
    </g>
    <g id="ytick_29">
     <g id="line2d_179">
      <path d="M 66.5 1022.45 L 953.5 1022.45 " clip-path="url(#pc51d896e30)" style="fill: none; stroke: #b0b0b0; stroke-opacity: 0.3; stroke-width: 0.8; stroke-linecap: square"/>
     </g>
     <g id="line2d_180">
      <g>
       <use href="#m8c60a345ed" x="66.5" y="1022.45" style="stroke: #000000; stroke-width: 0.8"/>
      </g>
     </g>
     <g id="text_98">
      <text style="font-size: 10.50px; font-family: 'Liberation Sans'; text-anchor: end" x="59.500" y="1027.149" transform="rotate(-0 59.500 1027.149)" textLength="31.81" lengthAdjust="spacingAndGlyphs">25000</text>
     </g>
    </g>
    <g id="text_99">
     <text style="font-size: 10.50px; font-family: 'Liberation Sans'; text-anchor: middle" x="21.608" y="1103.500" transform="rotate(-90 21.608 1103.500)" textLength="54.09" lengthAdjust="spacingAndGlyphs">Events/sec</text>
    </g>
   </g>
   <g id="line2d_181">
    <path d="M 106.4 1174.4 L 108 1156 L 109.28 1164 L 110.4 1168 L 112 1166.4 L 113.6 1168 L 116.8 1164.8 L 117.92 1165.6 L 119.2 1164 L 120.8 1166.4 L 122.4 1167.2 L 124 1167.2 L 125.6 1168 L 131.2 1168 L 132.8 1163.2 L 133.92 1162.4 L 135.2 1165.6 L 136.8 1164.8 L 138.4 1166.4 L 140 1165.6 L 141.28 1160.8 L 142.4 1166.4 L 144 1168 L 145.6 1168 L 147.2 1165.6 L 148.32 1161.6 L 149.6 1165.6 L 152.8 1167.2 L 154.4 1167.2 L 156 1168 L 157.6 1168 L 160.8 1164.8 L 162.4 1164 L 164 1165.6 L 165.28 1168 L 166.88 1167.2 L 168.48 1168 L 170.4 1166.88 L 172 1167.2 L 175.2 1165.6 L 176.8 1164 L 178.08 1162.4 L 179.2 1164 L 180 1132 L 181.28 1122.4 L 182.4 1144.8 L 183.2 1152.8 L 184.48 1149.6 L 185.6 1116 L 186.4 1100 L 188.8 1128.8 L 189.92 1103.2 L 190.72 1090.4 L 192 1098.4 L 193.6 1148 L 194.72 1167.2 L 196 1165.6 L 197.6 1166.4 L 200.8 1166.4 L 202.4 1167.2 L 203.2 1159.2 L 204 1159.2 L 204.8 1164 L 205.92 1164.8 L 207.2 1164.8 L 208.48 1166.4 L 209.28 1167.2 L 210.72 1028 L 211.52 1060 L 212.32 1117.6 L 213.6 1093.6 L 214.88 1104.8 L 216 1119.2 L 217.12 1122.4 L 218.08 1112.8 L 219.2 1116 L 220 1151.2 L 221.12 1151.2 L 221.92 1108 L 222.88 1105.6 L 224 1104.8 L 225.12 1103.2 L 226.4 1151.2 L 227.52 1167.2 L 228.8 1164 L 230.4 1160.8 L 233.6 1167.2 L 235.2 1162.4 L 236.32 1160 L 237.6 1164 L 238.88 1166.4 L 240 1164 L 240.8 1128.8 L 241.6 1119.2 L 242.72 1120 L 244.48 1148 L 245.6 1154.4 L 246.4 1108 L 247.2 1088.8 L 248.48 1100 L 250.72 1132 L 251.68 1152.8 L 252.8 1167.2 L 254.4 1164 L 256.28 1166.4 L 257.4 1164.8 L 259 1166.4 L 261.08 1167.2 L 262.2 1159.2 L 263 1132 L 264.12 1068 L 265.4 1106.4 L 266.52 1124 L 267.8 1128.8 L 268.92 1125.6 L 269.72 1132 L 270.52 1096.8 L 271.48 1063.2 L 272.6 1098.4 L 273.88 1100 L 275 1090.4 L 275.8 1090.4 L 276.6 1119.2 L 277.4 1143.2 L 278.2 1135.2 L 279.8 1096.8 L 280.6 1109.6 L 281.08 1136.8 L 281.88 1159.2 L 283 1164 L 284.6 1164.8 L 286.2 1166.4 L 287.8 1167.2 L 289.4 1167.2 L 290.52 1165.6 L 291.48 1159.2 L 292.6 1161.6 L 293.72 1162.4 L 294.68 1162.4 L 295.8 1166.4 L 296.28 1164 L 297.4 1108 L 298.52 1154.4 L 300.6 1072 L 301.4 1100 L 302.2 1116 L 303.32 1100 L 304.28 1109.6 L 306.2 1146.4 L 307.48 1148 L 309.72 1157.6 L 311 1162.4 L 312.6 1163.2 L 314.2 1163.2 L 315.8 1156 L 317.08 1162.4 L 318.2 1164.8 L 319.8 1164.8 L 321.4 1162.4 L 323 1159.2 L 324.12 1156 L 325.4 1162.4 L 327 1164 L 330.2 1162.4 L 331.8 1163.2 L 333.4 1160.8 L 335 1156 L 336.28 1160.8 L 337.88 1165.6 L 339 1160.8 L 342.2 1164 L 344.6 1164.8 L 347 1164 L 349.4 1164 L 351 1163.2 L 352.6 1160.8 L 353.88 1158.4 L 356.6 1164 L 358.2 1164.8 L 359.8 1159.2 L 360.92 1153.6 L 362.2 1160.8 L 363.48 1162.4 L 366.68 1152.8 L 367.8 1159.2 L 368.92 1162.4 L 370.2 1164.8 L 371.8 1164.8 L 373.4 1163.2 L 375 1164 L 376.6 1163.2 L 378.2 1159.2 L 379.48 1160.8 L 380.6 1162.4 L 382.2 1160 L 383.32 1159.2 L 384.6 1160.8 L 385.88 1160 L 387 1162.4 L 388.6 1164 L 390.68 1163.2 L 392.6 1163.2 L 394.2 1162.4 L 395.48 1159.2 L 396.6 1157.6 L 397.72 1159.2 L 399 1160.8 L 400.6 1162.4 L 401.88 1161.6 L 403 1158.4 L 404.12 1162.4 L 406.2 1164 L 408.28 1163.2 L 409.88 1160.8 L 411.48 1159.2 L 412.6 1160.8 L 413.88 1164 L 416.06 1164.17 L 417.51 1164.1 L 418.95 1164.79 L 420.4 1164.06 L 421.85 1147.6 L 423.29 1163.59 L 424.74 1162.98 L 427.63 1164.77 L 429.07 1164.91 L 430.52 1163.8 L 431.96 1164.68 L 433.41 1166.1 L 434.85 1164.79 L 436.3 1164.2 L 437.74 1164.36 L 439.19 1164.02 L 440.63 1164.47 L 442.08 1163.55 L 443.52 1163.43 L 444.97 1163.56 L 446.41 1162.89 L 447.86 1155.25 L 449.3 1162.65 L 450.75 1162 L 452.19 1163.41 L 453.64 1156.95 L 455.08 1165.15 L 456.53 1164.45 L 457.97 1164.35 L 459.42 1165.64 L 460.86 1165.95 L 463.75 1162.21 L 465.2 1163.34 L 466.65 1165.25 L 469.54 1164.79 L 470.98 1164.96 L 472.43 1164.5 L 475.32 1164.53 L 476.76 1164.07 L 478.21 1165.11 L 479.65 1165.96 L 481.1 1164.43 L 482.54 1163.66 L 483.99 1158.65 L 485.43 1163.84 L 486.88 1163.6 L 488.32 1163.08 L 489.77 1164.46 L 491.21 1165.03 L 492.66 1164.92 L 494.1 1163.81 L 495.55 1163.94 L 496.99 1158.65 L 498.44 1164.96 L 499.88 1164.87 L 501.33 1165.09 L 502.77 1165.53 L 507.11 1163.69 L 508.55 1163.7 L 510 1164.59 L 511.45 1164.55 L 512.89 1163.84 L 514.34 1164.87 L 515.78 1165.27 L 517.23 1164.36 L 518.67 1164.22 L 520.12 1163.49 L 521.56 1162.35 L 523.01 1163.52 L 524.45 1166.23 L 525.9 1167.23 L 527.34 1159.5 L 528.79 1166.17 L 530.23 1164.23 L 531.68 1164.54 L 533.12 1156.1 L 534.57 1161.62 L 536.01 1162.65 L 537.46 1165.13 L 538.9 1165.31 L 540.35 1155.25 L 541.79 1165.67 L 543.24 1164.91 L 544.68 1163.75 L 546.13 1163.45 L 549.02 1163.21 L 550.46 1165.18 L 551.91 1165.54 L 553.35 1164.57 L 554.8 1164 L 556.25 1159.5 L 557.69 1164.59 L 559.14 1162.35 L 560.58 1164.21 L 562.03 1164.32 L 563.47 1163.22 L 564.92 1164.02 L 566.36 1165 L 567.81 1165.11 L 569.25 1164.09 L 570.7 1158.65 L 572.14 1163.91 L 573.59 1162.85 L 575.03 1162.98 L 576.48 1159.5 L 577.92 1164.18 L 579.37 1163.37 L 580.81 1163.61 L 582.26 1163.57 L 583.7 1159.5 L 585.15 1163.68 L 586.59 1163.64 L 589.48 1162.77 L 590.93 1164.1 L 593.82 1163.07 L 595.26 1163.88 L 596.71 1163.24 L 598.15 1160.35 L 599.6 1163.05 L 602.49 1164.52 L 603.94 1164.51 L 605.38 1163.15 L 606.83 1162.74 L 608.27 1164.04 L 609.72 1165.17 L 611.16 1164.34 L 612.61 1165.03 L 614.05 1158.65 L 615.5 1164.18 L 616.94 1164.34 L 618.39 1163.83 L 619.83 1153.55 L 621.28 1163.54 L 622.72 1163.85 L 624.17 1164.97 L 625.61 1164.53 L 627.06 1156.1 L 628.5 1164.44 L 629.95 1164.1 L 631.39 1164.46 L 632.84 1163.39 L 634.28 1163.9 L 635.73 1165.72 L 637.17 1161.2 L 638.62 1166.23 L 640.06 1164.56 L 641.51 1165.59 L 642.95 1159.5 L 644.4 1164.5 L 645.85 1164.11 L 647.29 1162.41 L 648.74 1163.32 L 650.18 1163.81 L 651.63 1164.57 L 653.07 1164.14 L 654.52 1163.44 L 655.96 1163.9 L 657.41 1160.35 L 658.85 1164.69 L 660.3 1165.18 L 661.74 1165 L 663.19 1160.35 L 664.63 1164.48 L 667.52 1162.04 L 668.97 1163.27 L 670.41 1160.35 L 671.86 1162.81 L 673.3 1163.84 L 674.75 1164.12 L 676.19 1163.47 L 677.64 1163.12 L 679.08 1163.65 L 680.53 1161.2 L 681.97 1164.05 L 683.42 1162.96 L 684.86 1164.66 L 686.31 1164.98 L 687.75 1163.99 L 689.2 1163.84 L 692.09 1165.11 L 694.98 1162.63 L 696.43 1163.83 L 697.87 1161.2 L 699.32 1164.63 L 700.76 1159.5 L 702.21 1165.02 L 703.65 1165.05 L 705.1 1166.13 L 706.54 1154.74 L 707.99 1163.54 L 709.43 1163.05 L 710.88 1163.66 L 712.32 1164.73 L 713.77 1156.95 L 715.21 1163.37 L 716.66 1164.72 L 718.1 1165.72 L 719.55 1164.99 L 720.99 1163.87 L 722.44 1163.56 L 723.88 1160.35 L 725.33 1165.62 L 726.77 1165.67 L 728.22 1165.26 L 729.66 1159.5 L 731.11 1163.08 L 732.55 1164.12 L 734 1164.19 L 736.89 1163.82 L 738.34 1164.83 L 739.78 1164.76 L 741.23 1168.2 L 742.67 1168.9 L 744.12 1163.79 L 745.56 1167.86 L 747.01 1166.58 L 748.45 1166.1 L 749.9 1168.31 L 751.34 1168.3 L 752.79 1166.29 L 754.23 1167.31 L 755.68 1167.79 L 757.12 1168.03 L 758.57 1164.15 L 760.01 1167.15 L 761.46 1166.73 L 762.9 1168.55 L 764.35 1169.11 L 765.79 1168.06 L 767.24 1165.59 L 768.68 1167.99 L 770.13 1167.48 L 771.57 1167.98 L 773.02 1169.33 L 774.46 1168.99 L 775.91 1169.06 L 777.35 1169.71 L 778.8 1167.74 L 780.25 1167.48 L 781.69 1169.3 L 783.14 1167.57 L 784.58 1166.35 L 786.03 1167.93 L 787.47 1162.89 L 788.92 1167.42 L 790.36 1167.77 L 791.81 1167.14 L 793.25 1156.59 L 794.7 1167.54 L 796.14 1167.58 L 797.59 1167.81 L 799.03 1167.4 L 800.48 1161.63 L 801.92 1166.94 L 803.37 1167.76 L 804.81 1167.5 L 806.26 1168.05 L 807.7 1168.12 L 809.15 1168.47 L 810.59 1165.59 L 812.04 1167.39 L 813.48 1167.21 L 814.93 1167.8 L 816.37 1165.59 L 817.82 1167.38 L 819.26 1167.4 L 820.71 1168.29 L 822.15 1168.31 L 823.6 1168.84 L 825.05 1167.13 L 826.49 1166.17 L 827.94 1167.36 L 829.38 1167.8 L 830.83 1164.69 L 832.27 1168.27 L 833.72 1166.51 L 835.16 1167.25 L 836.61 1168.39 L 838.05 1169.22 L 839.5 1168.17 L 840.94 1168.05 L 842.39 1168.48 L 843.83 1163.79 L 845.28 1168.69 L 846.72 1168.4 L 848.17 1168.36 L 849.61 1167.46 L 851.06 1166.85 L 852.5 1167.72 L 853.95 1167.86 L 855.39 1166.92 L 856.84 1167.24 L 858.28 1168.16 L 859.73 1164.69 L 861.17 1167.97 L 862.62 1167.46 L 864.06 1168.26 L 865.51 1167.95 L 866.95 1168.21 L 868.4 1168.72 L 869.85 1167.47 L 871.29 1167.77 L 872.74 1168.23 L 874.18 1163.79 L 875.63 1168.91 L 877.07 1168.88 L 878.52 1170.44 L 879.96 1152.99 L 881.41 1168.73 L 882.85 1168.13 L 884.3 1167.88 L 885.74 1168.63 L 887.19 1160.19 L 888.63 1170.11 L 890.08 1168.32 L 892.97 1168.42 L 894.41 1168.76 L 895.86 1169.98 L 897.3 1165.59 L 898.75 1167.6 L 900.19 1167.67 L 901.64 1168.02 L 903.08 1163.79 L 904.53 1167.48 L 905.97 1166.92 L 907.42 1167.04 L 908.86 1168.3 L 910.31 1168.81 L 911.75 1168.19 L 913.2 1163.79 L 913.2 1163.79 " clip-path="url(#pc51d896e30)" style="fill: none; stroke: #6c5ce7; stroke-width: 1.5; stroke-linecap: square"/>
   </g>
   <g id="line2d_182">
    <path d="M 106.4 1174.4 L 108 1139.2 L 109.28 1156 L 110.4 1164.8 L 112 1162.4 L 113.6 1164 L 115.2 1161.6 L 116.8 1157.6 L 117.92 1158.4 L 119.2 1156.8 L 120.48 1159.2 L 121.6 1163.2 L 123.2 1162.4 L 124.8 1164 L 126.4 1164.8 L 128.8 1164.8 L 131.2 1163.2 L 132.8 1154.4 L 133.92 1152.8 L 135.2 1160.8 L 138.4 1162.4 L 140 1160 L 141.28 1152.8 L 142.4 1163.2 L 144 1164 L 145.6 1163.2 L 147.2 1159.2 L 148.32 1145.6 L 149.6 1159.2 L 151.2 1163.2 L 152.8 1164 L 156 1164 L 157.6 1163.2 L 159.2 1159.2 L 160.48 1157.6 L 161.6 1156.8 L 162.72 1156.8 L 164 1162.4 L 167.2 1164 L 168.8 1162.4 L 170.4 1164 L 172 1164 L 173.6 1163.2 L 175.2 1159.2 L 176.8 1156 L 178.4 1154.4 L 179.52 1122.4 L 180.8 1114.4 L 181.92 1112.8 L 182.88 1148 L 184 1144.8 L 185.12 1122.4 L 186.08 1098.4 L 187.2 1109.6 L 188.32 1143.2 L 189.6 1143.2 L 190.72 1141.6 L 191.52 1117.6 L 192.48 1109.6 L 193.6 1144.8 L 194.4 1160.8 L 197.6 1160.8 L 199.2 1161.6 L 200.8 1161.6 L 202.08 1159.2 L 203.2 1144.8 L 204.32 1152.8 L 205.6 1156.8 L 206.88 1164 L 208.48 1164.8 L 209.6 1164 L 210.72 1142.4 L 212 1148 L 213.28 1146.4 L 214.4 1143.2 L 215.52 1139.2 L 216.8 1135.2 L 218.08 1124 L 219.2 1135.2 L 220 1151.2 L 221.12 1151.2 L 222.24 1130.4 L 223.2 1132 L 224 1146.4 L 225.12 1147.2 L 226.4 1149.6 L 227.52 1160.8 L 228.8 1157.6 L 230.4 1150.4 L 232 1152.8 L 233.6 1160.8 L 235.2 1152.8 L 236.8 1141.6 L 237.92 1148 L 239.2 1160.8 L 242.4 1148 L 243.68 1140 L 244.8 1144.8 L 245.92 1141.6 L 247.2 1108 L 248.48 1088 L 249.6 1103.2 L 250.72 1124 L 251.68 1148 L 252.8 1160.8 L 254.4 1156 L 256.92 1160.8 L 258.2 1162.4 L 259.8 1162.4 L 261.08 1163.2 L 262.2 1151.2 L 263.32 1141.6 L 264.6 1135.2 L 265.88 1130.4 L 267 1148 L 268.12 1149.6 L 269.08 1143.2 L 269.88 1132 L 271 1144.8 L 272.12 1149.6 L 273.4 1135.2 L 275.48 1100 L 278.2 1132 L 279.32 1135.2 L 280.28 1106.4 L 281.08 1122.4 L 281.88 1157.6 L 283 1159.2 L 284.6 1157.6 L 286.2 1160.8 L 287.8 1162.4 L 289.4 1163.2 L 290.52 1157.6 L 291.48 1149.6 L 292.6 1154.4 L 293.72 1158.4 L 294.68 1154.4 L 295.8 1160.8 L 296.92 1157.6 L 299.48 1151.2 L 300.6 1148 L 301.4 1144.8 L 302.52 1144 L 303.8 1146.4 L 304.92 1141.6 L 307.48 1135.2 L 308.6 1143.2 L 309.72 1148 L 311 1154.4 L 312.28 1156 L 313.88 1156.8 L 315 1148 L 316.12 1142.4 L 317.4 1154.4 L 318.68 1157.6 L 319.8 1156 L 320.92 1151.2 L 322.2 1141.6 L 323.32 1135.2 L 324.28 1148 L 325.4 1156 L 327 1157.6 L 328.6 1156 L 330.2 1157.6 L 331.8 1156 L 333.08 1151.2 L 334.2 1145.6 L 335.32 1148 L 336.6 1157.6 L 337.88 1156 L 339 1148 L 340.12 1152.8 L 341.4 1156 L 343 1157.6 L 344.6 1156.8 L 346.2 1156.8 L 347.8 1157.6 L 349.4 1155.2 L 350.68 1152.8 L 351.8 1156 L 352.92 1151.2 L 353.88 1146.4 L 355 1152.8 L 356.6 1156 L 358.2 1152.8 L 360.6 1128.8 L 361.72 1146.4 L 363 1154.4 L 364.6 1152.8 L 366.68 1129.6 L 367.8 1141.6 L 368.92 1151.2 L 370.2 1156.8 L 371.8 1157.6 L 375 1156 L 376.6 1157.6 L 378.2 1148.8 L 379.48 1154.4 L 381.4 1150.4 L 382.68 1147.2 L 383.8 1152.8 L 384.92 1149.6 L 386.2 1151.2 L 387.48 1157.6 L 388.6 1157.6 L 391.8 1156 L 392.92 1155.2 L 394.2 1151.2 L 395.48 1154.4 L 397.08 1145.6 L 398.2 1154.4 L 399.32 1157.6 L 400.6 1154.4 L 401.88 1148 L 403 1154.4 L 404.6 1157.6 L 406.2 1157.6 L 407.8 1155.2 L 409.4 1149.6 L 411 1147.2 L 412.6 1157.6 L 416.06 1157.52 L 417.51 1156.17 L 420.4 1158.37 L 421.85 1134 L 423.29 1156.23 L 424.74 1157.52 L 426.18 1149.3 L 427.63 1157.16 L 429.07 1157.66 L 430.52 1157.11 L 431.96 1157.41 L 433.41 1157.93 L 434.85 1158.83 L 436.3 1157.32 L 437.74 1157.6 L 439.19 1159.26 L 440.63 1146.75 L 442.08 1159.98 L 443.52 1157.63 L 444.97 1157.94 L 446.41 1157.84 L 447.86 1135.7 L 449.3 1157.32 L 450.75 1158.87 L 452.19 1159.14 L 453.64 1136.55 L 455.08 1158.44 L 456.53 1157.11 L 457.97 1156.62 L 459.42 1159.92 L 460.86 1157.61 L 462.31 1151 L 463.75 1157.29 L 465.2 1156.7 L 466.65 1156.66 L 468.09 1157.57 L 469.54 1145.9 L 470.98 1157.3 L 472.43 1156.53 L 473.87 1157.15 L 475.32 1157.56 L 476.76 1155.99 L 478.21 1158.52 L 479.65 1159.01 L 481.1 1156.64 L 482.54 1155.39 L 483.99 1147.26 L 485.43 1157 L 486.88 1156 L 488.32 1157.65 L 489.77 1149.3 L 491.21 1157.42 L 492.66 1157.44 L 494.1 1158.51 L 495.55 1157.87 L 496.99 1141.65 L 498.44 1157.18 L 499.88 1156.64 L 501.33 1156.56 L 502.77 1157.98 L 504.22 1156.48 L 505.66 1155.5 L 507.11 1148.45 L 508.55 1158.04 L 510 1155.81 L 511.45 1157.4 L 512.89 1147.6 L 514.34 1158.38 L 517.23 1159.17 L 518.67 1158.31 L 520.12 1156.35 L 521.56 1156.09 L 523.01 1157.85 L 524.45 1158.59 L 525.9 1159.16 L 527.34 1146.75 L 528.79 1156.36 L 530.23 1156.01 L 531.68 1157.35 L 533.12 1138.76 L 534.57 1139.1 L 536.01 1159.24 L 537.46 1157.17 L 538.9 1156.06 L 540.35 1135.36 L 541.79 1158.41 L 543.24 1158.7 L 544.68 1157.27 L 546.13 1157.05 L 547.57 1155.63 L 549.02 1154.6 L 550.46 1151 L 551.91 1157.34 L 553.35 1158.08 L 554.8 1158.2 L 556.25 1148.45 L 557.69 1158.25 L 559.14 1157.42 L 560.58 1158.16 L 562.03 1158.38 L 563.47 1157.56 L 564.92 1158.35 L 566.36 1157.41 L 567.81 1157.31 L 569.25 1157.98 L 570.7 1145.9 L 572.14 1159.19 L 573.59 1158.69 L 575.03 1156.67 L 576.48 1147.94 L 577.92 1159.1 L 579.37 1159.06 L 580.81 1157.18 L 582.26 1155.98 L 583.7 1146.24 L 585.15 1158.79 L 586.59 1158 L 588.04 1156.79 L 589.48 1159.28 L 590.93 1159.68 L 592.37 1158.35 L 593.82 1152.36 L 595.26 1158.63 L 596.71 1156.97 L 598.15 1155.13 L 599.6 1149.3 L 601.05 1157.2 L 602.49 1157.72 L 603.94 1155.64 L 605.38 1155.74 L 606.83 1156.92 L 608.27 1159.41 L 609.72 1159.95 L 611.16 1158.32 L 612.61 1158.06 L 614.05 1145.9 L 615.5 1156.59 L 616.94 1157.6 L 618.39 1159.6 L 619.83 1132.3 L 621.28 1156.91 L 622.72 1158.79 L 624.17 1159.59 L 625.61 1158.44 L 627.06 1136.55 L 628.5 1158.06 L 629.95 1156.93 L 631.39 1157.63 L 632.84 1157.17 L 634.28 1158.63 L 635.73 1159.4 L 637.17 1150.15 L 638.62 1160.51 L 640.06 1149.64 L 641.51 1158.31 L 642.95 1147.6 L 644.4 1157.73 L 645.85 1158.71 L 647.29 1160.47 L 648.74 1157.89 L 650.18 1156.2 L 651.63 1158.66 L 653.07 1158.31 L 654.52 1151 L 655.96 1159.36 L 657.41 1148.45 L 658.85 1158.47 L 660.3 1157.07 L 661.74 1156.76 L 663.19 1149.3 L 664.63 1156.88 L 666.08 1158.53 L 667.52 1159.53 L 668.97 1158.31 L 670.41 1146.75 L 671.86 1159.57 L 673.3 1159.29 L 674.75 1157.51 L 676.19 1158.21 L 677.64 1158.06 L 679.08 1156.24 L 680.53 1151 L 681.97 1158.61 L 683.42 1151 L 684.86 1158.45 L 686.31 1149.3 L 687.75 1159.36 L 689.2 1161.45 L 690.65 1160.09 L 692.09 1156.87 L 693.54 1156.84 L 694.98 1156.64 L 696.43 1156.8 L 697.87 1150.15 L 699.32 1158.98 L 700.76 1146.75 L 702.21 1159.25 L 703.65 1157.2 L 705.1 1156.59 L 706.54 1134 L 707.99 1156.81 L 709.43 1155.97 L 710.88 1156.77 L 712.32 1158.65 L 713.77 1135.36 L 715.21 1154.03 L 716.66 1156.29 L 718.1 1159.23 L 719.55 1157.61 L 720.99 1156.58 L 722.44 1155.95 L 723.88 1150.15 L 725.33 1157.95 L 726.77 1151 L 728.22 1157.56 L 729.66 1147.6 L 731.11 1157.87 L 732.55 1160.19 L 734 1160.56 L 735.45 1157.66 L 736.89 1156.53 L 738.34 1157.02 L 739.78 1156.55 L 741.23 1164.15 L 742.67 1164.6 L 744.12 1153.89 L 745.56 1164.45 L 747.01 1163.68 L 748.45 1164.24 L 749.9 1157.49 L 751.34 1163.29 L 752.79 1165.7 L 754.23 1164.13 L 755.68 1164.82 L 757.12 1153.35 L 758.57 1165.63 L 760.01 1164.22 L 761.46 1164.5 L 762.9 1163.08 L 764.35 1164.34 L 765.79 1165.32 L 767.24 1158.39 L 768.68 1161.52 L 770.13 1159.29 L 771.57 1163.02 L 773.02 1155.69 L 774.46 1162.71 L 775.91 1163.47 L 777.35 1164.08 L 778.8 1166.45 L 780.25 1164.88 L 781.69 1164.4 L 783.14 1164.29 L 784.58 1160.19 L 786.03 1165.25 L 787.47 1153.35 L 788.92 1164.86 L 790.36 1164.21 L 791.81 1165.73 L 793.25 1133.2 L 794.7 1164.88 L 797.59 1168.35 L 799.03 1166.93 L 800.48 1146.16 L 801.92 1162.89 L 803.37 1161.34 L 804.81 1160.57 L 806.26 1163.69 L 807.7 1163.53 L 809.15 1161.3 L 810.59 1158.39 L 812.04 1162.88 L 813.48 1159.29 L 814.93 1162.27 L 816.37 1156.23 L 817.82 1164.9 L 819.26 1166.17 L 822.15 1163.57 L 823.6 1163.56 L 825.05 1164.51 L 826.49 1163.57 L 827.94 1159.29 L 829.38 1163.26 L 830.83 1152.1 L 832.27 1162.66 L 835.16 1163.97 L 836.61 1156.23 L 838.05 1164.64 L 839.5 1165.89 L 840.94 1164.18 L 842.39 1164.58 L 843.83 1154.43 L 845.28 1165.4 L 846.72 1161.62 L 848.17 1160.43 L 849.61 1162.8 L 852.5 1165.51 L 853.95 1158.39 L 855.39 1164.27 L 856.84 1157.49 L 858.28 1164.25 L 859.73 1156.23 L 861.17 1163.51 L 862.62 1164.06 L 864.06 1165.39 L 865.51 1164.73 L 866.95 1164.66 L 868.4 1162.51 L 869.85 1158.39 L 871.29 1163.89 L 872.74 1164.33 L 874.18 1152.63 L 875.63 1164.56 L 877.07 1163.92 L 878.52 1161.92 L 879.96 1124.2 L 881.41 1162.31 L 882.85 1162.55 L 884.3 1163.59 L 885.74 1163.83 L 887.19 1144 L 888.63 1164.14 L 890.08 1165.2 L 891.52 1165.27 L 892.97 1165.08 L 894.41 1165.15 L 895.86 1165.68 L 897.3 1158.03 L 898.75 1162.09 L 900.19 1158.03 L 901.64 1165.01 L 903.08 1154.43 L 904.53 1162.15 L 905.97 1163.65 L 907.42 1164.94 L 908.86 1165.88 L 910.31 1164.24 L 911.75 1163.88 L 913.2 1160.19 L 913.2 1160.19 " clip-path="url(#pc51d896e30)" style="fill: none; stroke: #fd79a8; stroke-width: 1.5; stroke-linecap: square"/>
   </g>
   <g id="patch_27">
    <path d="M 66.5 1181.5 L 66.5 1021.5 " style="fill: none; stroke: #000000; stroke-width: 0.8; stroke-linejoin: miter; stroke-linecap: square"/>
   </g>
   <g id="patch_28">
    <path d="M 953.5 1181.5 L 953.5 1021.5 " style="fill: none; stroke: #000000; stroke-width: 0.8; stroke-linejoin: miter; stroke-linecap: square"/>
   </g>
   <g id="patch_29">
    <path d="M 66.5 1181.5 L 953.5 1181.5 " style="fill: none; stroke: #000000; stroke-width: 0.8; stroke-linejoin: miter; stroke-linecap: square"/>
   </g>
   <g id="patch_30">
    <path d="M 66.5 1021.5 L 953.5 1021.5 " style="fill: none; stroke: #000000; stroke-width: 0.8; stroke-linejoin: miter; stroke-linecap: square"/>
   </g>
   <g id="text_100">
    <text style="font-weight: 700; font-size: 14.70px; font-family: 'Liberation Sans'; text-anchor: middle" x="510" y="1015.5" transform="rotate(-0 510 1015.5)" textLength="380.62" lengthAdjust="spacingAndGlyphs">System Activity (Interrupts &amp; Context Switches)</text>
   </g>
   <g id="legend_5">
    <g id="patch_31">
     <path d="M 808.492 1059.196 L 946.500 1059.196 Q 948.500 1059.196 948.500 1057.196 L 948.500 1028.500 Q 948.500 1026.500 946.500 1026.500 L 808.492 1026.500 Q 806.492 1026.500 806.492 1028.500 L 806.492 1057.196 Q 806.492 1059.196 808.492 1059.196 z" style="fill: #ffffff; opacity: 0.8; stroke: #cccccc; stroke-linejoin: miter"/>
    </g>
    <g id="line2d_183">
     <path d="M 810.092 1034.598 L 820.092 1034.598 L 830.092 1034.598" style="fill: none; stroke: #6c5ce7; stroke-width: 1.5; stroke-linecap: square"/>
    </g>
    <g id="text_101">
     <text style="font-size: 10.50px; font-family: 'Liberation Sans'; text-anchor: start" x="838.492" y="1039.098" transform="rotate(-0 838.492 1039.098)" textLength="69.45" lengthAdjust="spacingAndGlyphs">Interrupts/sec</text>
    </g>
    <g id="line2d_184">
     <path d="M 810.092 1049.617 L 820.092 1049.617 L 830.092 1049.617" style="fill: none; stroke: #fd79a8; stroke-width: 1.5; stroke-linecap: square"/>
    </g>
    <g id="text_102">
     <text style="font-size: 10.50px; font-family: 'Liberation Sans'; text-anchor: start" x="838.492" y="1054.117" transform="rotate(-0 838.492 1054.117)" textLength="107.01" lengthAdjust="spacingAndGlyphs">Context Switches/sec</text>
    </g>
   </g>
  </g>
  <g id="axes_6">
   <g id="matplotlib.axis_11">
    <g id="ytick_30">
     <g id="line2d_185">
      <defs>
       <path id="me5ea078558" d="M 0 0 L 3.5 0 " style="stroke: #000000; stroke-width: 0.8"/>
      </defs>
      <g>
       <use href="#me5ea078558" x="953.5" y="707.4" style="stroke: #000000; stroke-width: 0.8"/>
      </g>
     </g>
     <g id="text_103">
      <text style="font-size: 10.50px; font-family: 'Liberation Sans'; text-anchor: start" x="960.500" y="712.099" transform="rotate(-0 960.500 712.099)" textLength="6.36" lengthAdjust="spacingAndGlyphs">0</text>
     </g>
    </g>
    <g id="ytick_31">
     <g id="line2d_186">
      <g>
       <use href="#me5ea078558" x="953.5" y="672" style="stroke: #000000; stroke-width: 0.8"/>
      </g>
     </g>
     <g id="text_104">
      <text style="font-size: 10.50px; font-family: 'Liberation Sans'; text-anchor: start" x="960.500" y="676.699" transform="rotate(-0 960.500 676.699)" textLength="12.72" lengthAdjust="spacingAndGlyphs">50</text>
     </g>
    </g>
    <g id="ytick_32">
     <g id="line2d_187">
      <g>
       <use href="#me5ea078558" x="953.5" y="638.2" style="stroke: #000000; stroke-width: 0.8"/>
      </g>
     </g>
     <g id="text_105">
      <text style="font-size: 10.50px; font-family: 'Liberation Sans'; text-anchor: start" x="960.500" y="642.899" transform="rotate(-0 960.500 642.899)" textLength="19.09" lengthAdjust="spacingAndGlyphs">100</text>
     </g>
    </g>
    <g id="ytick_33">
     <g id="line2d_188">
      <g>
       <use href="#me5ea078558" x="953.5" y="603.2" style="stroke: #000000; stroke-width: 0.8"/>
      </g>
     </g>
     <g id="text_106">
      <text style="font-size: 10.50px; font-family: 'Liberation Sans'; text-anchor: start" x="960.500" y="607.899" transform="rotate(-0 960.500 607.899)" textLength="19.09" lengthAdjust="spacingAndGlyphs">150</text>
     </g>
    </g>
    <g id="ytick_34">
     <g id="line2d_189">
      <g>
       <use href="#me5ea078558" x="953.5" y="569.4" style="stroke: #000000; stroke-width: 0.8"/>
      </g>
     </g>
     <g id="text_107">
      <text style="font-size: 10.50px; font-family: 'Liberation Sans'; text-anchor: start" x="960.500" y="574.099" transform="rotate(-0 960.500 574.099)" textLength="19.09" lengthAdjust="spacingAndGlyphs">200</text>
     </g>
    </g>
    <g id="text_108">
     <text style="font-size: 10.50px; font-family: 'Liberation Sans'; text-anchor: middle" x="991.186" y="636.500" transform="rotate(-90 991.186 636.500)" textLength="90.94" lengthAdjust="spacingAndGlyphs">Swap Rate (MiB/s)</text>
    </g>
   </g>
   <g id="line2d_190">
    <path d="M 106.8 706.8 L 201.92 706.8 L 203.2 704.8 L 204.48 706.8 L 246.4 706.8 L 247.68 700 L 248.8 700.8 L 249.92 706.8 L 289.92 706.8 L 291.2 704 L 292.48 706.8 L 332 706.8 L 335.1 704.3 L 338 706.8 L 418 706.8 L 420.9 700.8 L 423.8 706.8 L 913.2 706.8 " clip-path="url(#pb7020cfb58)" style="fill: none; stroke-dasharray: 5.55,2.4; stroke-dashoffset: 0; stroke: #00b894; stroke-width: 1.5"/>
   </g>
   <g id="line2d_191">
    <path d="M 106.8 706.8 L 178.88 706.8 L 181.6 571.2 L 182.4 584 L 183.2 592 L 184.32 598.4 L 185.6 612.8 L 186.4 600 L 187.2 574.4 L 188 569.6 L 188.8 579.2 L 190.4 590.4 L 192 600 L 193.28 648 L 194.4 706.8 L 208.8 706.8 L 211.2 592 L 212 579.2 L 213.12 574.4 L 214.4 587.2 L 215.68 568 L 216.32 560.8 L 216.96 584 L 217.92 614.4 L 218.88 592 L 220 585.6 L 221.6 579.2 L 222.72 592 L 224 604.8 L 225.28 598.4 L 226.4 648 L 228 706.8 L 239.2 706.8 L 241.6 600 L 243.2 571.2 L 244.48 592 L 245.6 604.8 L 246.72 598.4 L 248 612.8 L 249.12 584 L 249.92 580 L 250.72 616 L 251.52 648 L 252.8 706.8 L 260.8 706.8 L 263.68 592 L 265.6 588.8 L 266.88 585.6 L 268 576 L 268.8 574.4 L 269.76 596.8 L 270.72 604.8 L 272 593.6 L 273.6 590.4 L 276 587.2 L 278.08 588.8 L 279.68 585.6 L 280.8 648 L 283.2 706.8 L 296 706.8 L 298.4 592 L 300 585.6 L 301.6 584 L 303.2 592 L 304.8 580.8 L 305.92 579.2 L 306.88 608 L 308 648 L 310.4 706.8 L 913.2 706.8 " clip-path="url(#pb7020cfb58)" style="fill: none; stroke-dasharray: 5.55,2.4; stroke-dashoffset: 0; stroke: #e84393; stroke-width: 1.5"/>
   </g>
   <g id="patch_32">
    <path d="M 66.5 714.5 L 66.5 554.5 " style="fill: none; stroke: #000000; stroke-width: 0.8; stroke-linejoin: miter; stroke-linecap: square"/>
   </g>
   <g id="patch_33">
    <path d="M 953.5 714.5 L 953.5 554.5 " style="fill: none; stroke: #000000; stroke-width: 0.8; stroke-linejoin: miter; stroke-linecap: square"/>
   </g>
   <g id="patch_34">
    <path d="M 66.5 714.5 L 953.5 714.5 " style="fill: none; stroke: #000000; stroke-width: 0.8; stroke-linejoin: miter; stroke-linecap: square"/>
   </g>
   <g id="patch_35">
    <path d="M 66.5 554.5 L 953.5 554.5 " style="fill: none; stroke: #000000; stroke-width: 0.8; stroke-linejoin: miter; stroke-linecap: square"/>
   </g>
   <g id="legend_6">
    <g id="patch_36">
     <path d="M 829.362 592.196 L 946.500 592.196 Q 948.500 592.196 948.500 590.196 L 948.500 561.500 Q 948.500 559.500 946.500 559.500 L 829.362 559.500 Q 827.362 559.500 827.362 561.500 L 827.362 590.196 Q 827.362 592.196 829.362 592.196 z" style="fill: #ffffff; opacity: 0.8; stroke: #cccccc; stroke-linejoin: miter"/>
    </g>
    <g id="line2d_192">
     <path d="M 830.962 567.598 L 840.962 567.598 L 850.962 567.598" style="fill: none; stroke-dasharray: 5.55,2.4; stroke-dashoffset: 0; stroke: #00b894; stroke-width: 1.5"/>
    </g>
    <g id="text_109">
     <text style="font-size: 10.50px; font-family: 'Liberation Sans'; text-anchor: start" x="859.362" y="572.098" transform="rotate(-0 859.362 572.098)" textLength="77.30" lengthAdjust="spacingAndGlyphs">Swap In (MiB/s)</text>
    </g>
    <g id="line2d_193">
     <path d="M 830.962 582.617 L 840.962 582.617 L 850.962 582.617" style="fill: none; stroke-dasharray: 5.55,2.4; stroke-dashoffset: 0; stroke: #e84393; stroke-width: 1.5"/>
    </g>
    <g id="text_110">
     <text style="font-size: 10.50px; font-family: 'Liberation Sans'; text-anchor: start" x="859.362" y="587.117" transform="rotate(-0 859.362 587.117)" textLength="86.14" lengthAdjust="spacingAndGlyphs">Swap Out (MiB/s)</text>
    </g>
   </g>
  </g>
  <g id="text_111">
   <text style="font-weight: 700; font-size: 16.80px; font-family: 'Liberation Sans'; text-anchor: middle" x="500" y="19.2" transform="rotate(-0 500 19.2)" textLength="471.69" lengthAdjust="spacingAndGlyphs">swappiness-90-100MBps-rate-12GiB-target_nocache</text>
  </g>
 </g>
 <defs>
  <clipPath id="pa664b8d14c">
   <rect x="66.5" y="87.5" width="887" height="160"/>
  </clipPath>
  <clipPath id="p88d85147dd">
   <rect x="66.5" y="320.5" width="887" height="161"/>
  </clipPath>
  <clipPath id="pb7020cfb58">
   <rect x="66.5" y="554.5" width="887" height="160"/>
  </clipPath>
  <clipPath id="pbb9e67f13a">
   <rect x="66.5" y="788.5" width="887" height="160"/>
  </clipPath>
  <clipPath id="pc51d896e30">
   <rect x="66.5" y="1021.5" width="887" height="160"/>
  </clipPath>
 </defs>
</svg>

</body></html>
